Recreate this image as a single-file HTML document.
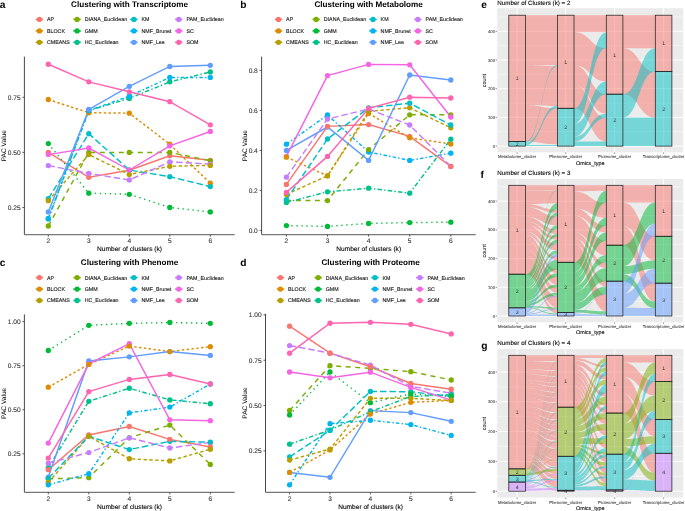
<!DOCTYPE html><html><head><meta charset="utf-8"><style>html,body{margin:0;padding:0;background:#fff;width:685px;height:511px;overflow:hidden}svg{display:block;will-change:transform}</style></head><body>
<svg width="685" height="511" viewBox="0 0 685 511" text-rendering="geometricPrecision" font-family='"Liberation Sans", sans-serif'>
<rect width="685" height="511" fill="#fff"/>
<text x="-0.30" y="8.10" font-size="10.2" text-anchor="start" font-weight="bold" fill="#000" >a</text>
<text x="129.55" y="6.80" font-size="8.15" text-anchor="middle" font-weight="bold" fill="#000" >Clustering with Transcriptome</text>
<line x1="35.70" y1="19.40" x2="43.10" y2="19.40" stroke="#F8766D" stroke-width="1.6"/>
<circle cx="39.40" cy="19.40" r="2.65" fill="#F8766D"/>
<text x="47.00" y="21.30" font-size="5.3" text-anchor="start" font-weight="normal" fill="#111" stroke="#111" stroke-width="0.1" >AP</text>
<line x1="35.70" y1="30.90" x2="43.10" y2="30.90" stroke="#DE8C00" stroke-width="1.6"/>
<circle cx="39.40" cy="30.90" r="2.65" fill="#DE8C00"/>
<text x="47.00" y="32.80" font-size="5.3" text-anchor="start" font-weight="normal" fill="#111" stroke="#111" stroke-width="0.1" >BLOCK</text>
<line x1="35.70" y1="42.30" x2="43.10" y2="42.30" stroke="#B79F00" stroke-width="1.6"/>
<circle cx="39.40" cy="42.30" r="2.65" fill="#B79F00"/>
<text x="47.00" y="44.20" font-size="5.3" text-anchor="start" font-weight="normal" fill="#111" stroke="#111" stroke-width="0.1" >CMEANS</text>
<line x1="73.40" y1="19.40" x2="80.80" y2="19.40" stroke="#7CAE00" stroke-width="1.6"/>
<circle cx="77.10" cy="19.40" r="2.65" fill="#7CAE00"/>
<text x="84.70" y="21.30" font-size="5.3" text-anchor="start" font-weight="normal" fill="#111" stroke="#111" stroke-width="0.1" >DIANA_Euclidean</text>
<line x1="73.40" y1="30.90" x2="80.80" y2="30.90" stroke="#00BA38" stroke-width="1.6"/>
<circle cx="77.10" cy="30.90" r="2.65" fill="#00BA38"/>
<text x="84.70" y="32.80" font-size="5.3" text-anchor="start" font-weight="normal" fill="#111" stroke="#111" stroke-width="0.1" >GMM</text>
<line x1="73.40" y1="42.30" x2="80.80" y2="42.30" stroke="#00C08B" stroke-width="1.6"/>
<circle cx="77.10" cy="42.30" r="2.65" fill="#00C08B"/>
<text x="84.70" y="44.20" font-size="5.3" text-anchor="start" font-weight="normal" fill="#111" stroke="#111" stroke-width="0.1" >HC_Euclidean</text>
<line x1="130.20" y1="19.40" x2="137.60" y2="19.40" stroke="#00BFC4" stroke-width="1.6"/>
<circle cx="133.90" cy="19.40" r="2.65" fill="#00BFC4"/>
<text x="141.50" y="21.30" font-size="5.3" text-anchor="start" font-weight="normal" fill="#111" stroke="#111" stroke-width="0.1" >KM</text>
<line x1="130.20" y1="30.90" x2="137.60" y2="30.90" stroke="#00B4F0" stroke-width="1.6"/>
<circle cx="133.90" cy="30.90" r="2.65" fill="#00B4F0"/>
<text x="141.50" y="32.80" font-size="5.3" text-anchor="start" font-weight="normal" fill="#111" stroke="#111" stroke-width="0.1" >NMF_Brunet</text>
<line x1="130.20" y1="42.30" x2="137.60" y2="42.30" stroke="#619CFF" stroke-width="1.6"/>
<circle cx="133.90" cy="42.30" r="2.65" fill="#619CFF"/>
<text x="141.50" y="44.20" font-size="5.3" text-anchor="start" font-weight="normal" fill="#111" stroke="#111" stroke-width="0.1" >NMF_Lee</text>
<line x1="175.10" y1="19.40" x2="182.50" y2="19.40" stroke="#C77CFF" stroke-width="1.6"/>
<circle cx="178.80" cy="19.40" r="2.65" fill="#C77CFF"/>
<text x="186.40" y="21.30" font-size="5.3" text-anchor="start" font-weight="normal" fill="#111" stroke="#111" stroke-width="0.1" >PAM_Euclidean</text>
<line x1="175.10" y1="30.90" x2="182.50" y2="30.90" stroke="#F564E3" stroke-width="1.6"/>
<circle cx="178.80" cy="30.90" r="2.65" fill="#F564E3"/>
<text x="186.40" y="32.80" font-size="5.3" text-anchor="start" font-weight="normal" fill="#111" stroke="#111" stroke-width="0.1" >SC</text>
<line x1="175.10" y1="42.30" x2="182.50" y2="42.30" stroke="#FF64B0" stroke-width="1.6"/>
<circle cx="178.80" cy="42.30" r="2.65" fill="#FF64B0"/>
<text x="186.40" y="44.20" font-size="5.3" text-anchor="start" font-weight="normal" fill="#111" stroke="#111" stroke-width="0.1" >SOM</text>
<line x1="24.40" y1="56.60" x2="24.40" y2="234.70" stroke="#333" stroke-width="0.9"/>
<line x1="24.40" y1="234.70" x2="234.70" y2="234.70" stroke="#777" stroke-width="1.2"/>
<line x1="22.40" y1="207.50" x2="24.40" y2="207.50" stroke="#333" stroke-width="0.8"/>
<text x="20.60" y="209.80" font-size="6.6" text-anchor="end" font-weight="normal" fill="#333" stroke="#333" stroke-width="0.1" >0.25</text>
<line x1="22.40" y1="152.40" x2="24.40" y2="152.40" stroke="#333" stroke-width="0.8"/>
<text x="20.60" y="154.70" font-size="6.6" text-anchor="end" font-weight="normal" fill="#333" stroke="#333" stroke-width="0.1" >0.50</text>
<line x1="22.40" y1="97.30" x2="24.40" y2="97.30" stroke="#333" stroke-width="0.8"/>
<text x="20.60" y="99.60" font-size="6.6" text-anchor="end" font-weight="normal" fill="#333" stroke="#333" stroke-width="0.1" >0.75</text>
<line x1="48.30" y1="234.70" x2="48.30" y2="236.70" stroke="#333" stroke-width="0.8"/>
<text x="48.30" y="243.00" font-size="6.6" text-anchor="middle" font-weight="normal" fill="#333" stroke="#333" stroke-width="0.1" >2</text>
<line x1="88.80" y1="234.70" x2="88.80" y2="236.70" stroke="#333" stroke-width="0.8"/>
<text x="88.80" y="243.00" font-size="6.6" text-anchor="middle" font-weight="normal" fill="#333" stroke="#333" stroke-width="0.1" >3</text>
<line x1="129.30" y1="234.70" x2="129.30" y2="236.70" stroke="#333" stroke-width="0.8"/>
<text x="129.30" y="243.00" font-size="6.6" text-anchor="middle" font-weight="normal" fill="#333" stroke="#333" stroke-width="0.1" >4</text>
<line x1="169.80" y1="234.70" x2="169.80" y2="236.70" stroke="#333" stroke-width="0.8"/>
<text x="169.80" y="243.00" font-size="6.6" text-anchor="middle" font-weight="normal" fill="#333" stroke="#333" stroke-width="0.1" >5</text>
<line x1="210.30" y1="234.70" x2="210.30" y2="236.70" stroke="#333" stroke-width="0.8"/>
<text x="210.30" y="243.00" font-size="6.6" text-anchor="middle" font-weight="normal" fill="#333" stroke="#333" stroke-width="0.1" >6</text>
<text x="129.55" y="251.00" font-size="6.6" text-anchor="middle" font-weight="normal" fill="#000" stroke="#000" stroke-width="0.1" >Number of clusters (k)</text>
<text x="0" y="0" font-size="6.6" text-anchor="middle" transform="translate(5.90,145.65) rotate(-90)">PAC Value</text>
<polyline points="48.30,152.40 88.80,177.31 129.30,170.25 169.80,155.71 210.30,160.33" fill="none" stroke="#F8766D" stroke-width="1.45"/>
<polyline points="48.30,99.50 88.80,112.73 129.30,113.17 169.80,144.25 210.30,183.26" fill="none" stroke="#DE8C00" stroke-width="1.45" stroke-dasharray="2.4 2.4"/>
<polyline points="48.30,200.67 88.80,154.60 129.30,174.44 169.80,166.29 210.30,165.40" fill="none" stroke="#B79F00" stroke-width="1.45" stroke-dasharray="3.4 2.4"/>
<polyline points="48.30,226.01 88.80,152.40 129.30,152.40 169.80,152.40 210.30,160.78" fill="none" stroke="#7CAE00" stroke-width="1.45" stroke-dasharray="5 4.5"/>
<polyline points="48.30,143.58 88.80,193.17 129.30,194.28 169.80,207.50 210.30,211.91" fill="none" stroke="#00BA38" stroke-width="1.45" stroke-dasharray="1.3 3.7"/>
<polyline points="48.30,218.96 88.80,110.52 129.30,98.40 169.80,81.87 210.30,71.95" fill="none" stroke="#00C08B" stroke-width="1.45" stroke-dasharray="4.5 2.2 1.4 2.2"/>
<polyline points="48.30,198.68 88.80,133.67 129.30,170.03 169.80,176.64 210.30,186.56" fill="none" stroke="#00BFC4" stroke-width="1.45" stroke-dasharray="6.5 3"/>
<polyline points="48.30,218.52 88.80,110.52 129.30,96.20 169.80,77.46 210.30,77.46" fill="none" stroke="#00B4F0" stroke-width="1.45" stroke-dasharray="3.5 2.2 1.4 2.2"/>
<polyline points="48.30,211.91 88.80,109.42 129.30,86.28 169.80,66.44 210.30,65.34" fill="none" stroke="#619CFF" stroke-width="1.45"/>
<polyline points="48.30,165.62 88.80,173.34 129.30,179.95 169.80,161.88 210.30,164.08" fill="none" stroke="#C77CFF" stroke-width="1.45" stroke-dasharray="6.5 3"/>
<polyline points="48.30,154.60 88.80,147.99 129.30,170.03 169.80,145.79 210.30,131.46" fill="none" stroke="#F564E3" stroke-width="1.45"/>
<polyline points="48.30,64.24 88.80,81.87 129.30,91.79 169.80,101.71 210.30,124.85" fill="none" stroke="#FF64B0" stroke-width="1.45"/>
<circle cx="48.30" cy="152.40" r="2.65" fill="#F8766D"/>
<circle cx="88.80" cy="177.31" r="2.65" fill="#F8766D"/>
<circle cx="129.30" cy="170.25" r="2.65" fill="#F8766D"/>
<circle cx="169.80" cy="155.71" r="2.65" fill="#F8766D"/>
<circle cx="210.30" cy="160.33" r="2.65" fill="#F8766D"/>
<circle cx="48.30" cy="99.50" r="2.65" fill="#DE8C00"/>
<circle cx="88.80" cy="112.73" r="2.65" fill="#DE8C00"/>
<circle cx="129.30" cy="113.17" r="2.65" fill="#DE8C00"/>
<circle cx="169.80" cy="144.25" r="2.65" fill="#DE8C00"/>
<circle cx="210.30" cy="183.26" r="2.65" fill="#DE8C00"/>
<circle cx="48.30" cy="226.01" r="2.65" fill="#7CAE00"/>
<circle cx="88.80" cy="152.40" r="2.65" fill="#7CAE00"/>
<circle cx="129.30" cy="152.40" r="2.65" fill="#7CAE00"/>
<circle cx="169.80" cy="152.40" r="2.65" fill="#7CAE00"/>
<circle cx="210.30" cy="160.78" r="2.65" fill="#7CAE00"/>
<circle cx="48.30" cy="143.58" r="2.65" fill="#00BA38"/>
<circle cx="88.80" cy="193.17" r="2.65" fill="#00BA38"/>
<circle cx="129.30" cy="194.28" r="2.65" fill="#00BA38"/>
<circle cx="169.80" cy="207.50" r="2.65" fill="#00BA38"/>
<circle cx="210.30" cy="211.91" r="2.65" fill="#00BA38"/>
<circle cx="48.30" cy="218.96" r="2.65" fill="#00C08B"/>
<circle cx="88.80" cy="110.52" r="2.65" fill="#00C08B"/>
<circle cx="129.30" cy="98.40" r="2.65" fill="#00C08B"/>
<circle cx="169.80" cy="81.87" r="2.65" fill="#00C08B"/>
<circle cx="210.30" cy="71.95" r="2.65" fill="#00C08B"/>
<circle cx="48.30" cy="198.68" r="2.65" fill="#00BFC4"/>
<circle cx="88.80" cy="133.67" r="2.65" fill="#00BFC4"/>
<circle cx="129.30" cy="170.03" r="2.65" fill="#00BFC4"/>
<circle cx="169.80" cy="176.64" r="2.65" fill="#00BFC4"/>
<circle cx="210.30" cy="186.56" r="2.65" fill="#00BFC4"/>
<circle cx="48.30" cy="218.52" r="2.65" fill="#00B4F0"/>
<circle cx="88.80" cy="110.52" r="2.65" fill="#00B4F0"/>
<circle cx="129.30" cy="96.20" r="2.65" fill="#00B4F0"/>
<circle cx="169.80" cy="77.46" r="2.65" fill="#00B4F0"/>
<circle cx="210.30" cy="77.46" r="2.65" fill="#00B4F0"/>
<circle cx="48.30" cy="211.91" r="2.65" fill="#619CFF"/>
<circle cx="88.80" cy="109.42" r="2.65" fill="#619CFF"/>
<circle cx="129.30" cy="86.28" r="2.65" fill="#619CFF"/>
<circle cx="169.80" cy="66.44" r="2.65" fill="#619CFF"/>
<circle cx="210.30" cy="65.34" r="2.65" fill="#619CFF"/>
<circle cx="48.30" cy="165.62" r="2.65" fill="#C77CFF"/>
<circle cx="88.80" cy="173.34" r="2.65" fill="#C77CFF"/>
<circle cx="129.30" cy="179.95" r="2.65" fill="#C77CFF"/>
<circle cx="169.80" cy="161.88" r="2.65" fill="#C77CFF"/>
<circle cx="210.30" cy="164.08" r="2.65" fill="#C77CFF"/>
<circle cx="48.30" cy="200.67" r="2.65" fill="#B79F00"/>
<circle cx="88.80" cy="154.60" r="2.65" fill="#B79F00"/>
<circle cx="129.30" cy="174.44" r="2.65" fill="#B79F00"/>
<circle cx="169.80" cy="166.29" r="2.65" fill="#B79F00"/>
<circle cx="210.30" cy="165.40" r="2.65" fill="#B79F00"/>
<circle cx="48.30" cy="154.60" r="2.65" fill="#F564E3"/>
<circle cx="88.80" cy="147.99" r="2.65" fill="#F564E3"/>
<circle cx="129.30" cy="170.03" r="2.65" fill="#F564E3"/>
<circle cx="169.80" cy="145.79" r="2.65" fill="#F564E3"/>
<circle cx="210.30" cy="131.46" r="2.65" fill="#F564E3"/>
<circle cx="48.30" cy="64.24" r="2.65" fill="#FF64B0"/>
<circle cx="88.80" cy="81.87" r="2.65" fill="#FF64B0"/>
<circle cx="129.30" cy="91.79" r="2.65" fill="#FF64B0"/>
<circle cx="169.80" cy="101.71" r="2.65" fill="#FF64B0"/>
<circle cx="210.30" cy="124.85" r="2.65" fill="#FF64B0"/>
<text x="240.20" y="8.10" font-size="10.2" text-anchor="start" font-weight="bold" fill="#000" >b</text>
<text x="368.65" y="6.80" font-size="8.15" text-anchor="middle" font-weight="bold" fill="#000" >Clustering with Metabolome</text>
<line x1="274.80" y1="19.40" x2="282.20" y2="19.40" stroke="#F8766D" stroke-width="1.6"/>
<circle cx="278.50" cy="19.40" r="2.65" fill="#F8766D"/>
<text x="286.10" y="21.30" font-size="5.3" text-anchor="start" font-weight="normal" fill="#111" stroke="#111" stroke-width="0.1" >AP</text>
<line x1="274.80" y1="30.90" x2="282.20" y2="30.90" stroke="#DE8C00" stroke-width="1.6"/>
<circle cx="278.50" cy="30.90" r="2.65" fill="#DE8C00"/>
<text x="286.10" y="32.80" font-size="5.3" text-anchor="start" font-weight="normal" fill="#111" stroke="#111" stroke-width="0.1" >BLOCK</text>
<line x1="274.80" y1="42.30" x2="282.20" y2="42.30" stroke="#B79F00" stroke-width="1.6"/>
<circle cx="278.50" cy="42.30" r="2.65" fill="#B79F00"/>
<text x="286.10" y="44.20" font-size="5.3" text-anchor="start" font-weight="normal" fill="#111" stroke="#111" stroke-width="0.1" >CMEANS</text>
<line x1="312.50" y1="19.40" x2="319.90" y2="19.40" stroke="#7CAE00" stroke-width="1.6"/>
<circle cx="316.20" cy="19.40" r="2.65" fill="#7CAE00"/>
<text x="323.80" y="21.30" font-size="5.3" text-anchor="start" font-weight="normal" fill="#111" stroke="#111" stroke-width="0.1" >DIANA_Euclidean</text>
<line x1="312.50" y1="30.90" x2="319.90" y2="30.90" stroke="#00BA38" stroke-width="1.6"/>
<circle cx="316.20" cy="30.90" r="2.65" fill="#00BA38"/>
<text x="323.80" y="32.80" font-size="5.3" text-anchor="start" font-weight="normal" fill="#111" stroke="#111" stroke-width="0.1" >GMM</text>
<line x1="312.50" y1="42.30" x2="319.90" y2="42.30" stroke="#00C08B" stroke-width="1.6"/>
<circle cx="316.20" cy="42.30" r="2.65" fill="#00C08B"/>
<text x="323.80" y="44.20" font-size="5.3" text-anchor="start" font-weight="normal" fill="#111" stroke="#111" stroke-width="0.1" >HC_Euclidean</text>
<line x1="369.30" y1="19.40" x2="376.70" y2="19.40" stroke="#00BFC4" stroke-width="1.6"/>
<circle cx="373.00" cy="19.40" r="2.65" fill="#00BFC4"/>
<text x="380.60" y="21.30" font-size="5.3" text-anchor="start" font-weight="normal" fill="#111" stroke="#111" stroke-width="0.1" >KM</text>
<line x1="369.30" y1="30.90" x2="376.70" y2="30.90" stroke="#00B4F0" stroke-width="1.6"/>
<circle cx="373.00" cy="30.90" r="2.65" fill="#00B4F0"/>
<text x="380.60" y="32.80" font-size="5.3" text-anchor="start" font-weight="normal" fill="#111" stroke="#111" stroke-width="0.1" >NMF_Brunet</text>
<line x1="369.30" y1="42.30" x2="376.70" y2="42.30" stroke="#619CFF" stroke-width="1.6"/>
<circle cx="373.00" cy="42.30" r="2.65" fill="#619CFF"/>
<text x="380.60" y="44.20" font-size="5.3" text-anchor="start" font-weight="normal" fill="#111" stroke="#111" stroke-width="0.1" >NMF_Lee</text>
<line x1="414.20" y1="19.40" x2="421.60" y2="19.40" stroke="#C77CFF" stroke-width="1.6"/>
<circle cx="417.90" cy="19.40" r="2.65" fill="#C77CFF"/>
<text x="425.50" y="21.30" font-size="5.3" text-anchor="start" font-weight="normal" fill="#111" stroke="#111" stroke-width="0.1" >PAM_Euclidean</text>
<line x1="414.20" y1="30.90" x2="421.60" y2="30.90" stroke="#F564E3" stroke-width="1.6"/>
<circle cx="417.90" cy="30.90" r="2.65" fill="#F564E3"/>
<text x="425.50" y="32.80" font-size="5.3" text-anchor="start" font-weight="normal" fill="#111" stroke="#111" stroke-width="0.1" >SC</text>
<line x1="414.20" y1="42.30" x2="421.60" y2="42.30" stroke="#FF64B0" stroke-width="1.6"/>
<circle cx="417.90" cy="42.30" r="2.65" fill="#FF64B0"/>
<text x="425.50" y="44.20" font-size="5.3" text-anchor="start" font-weight="normal" fill="#111" stroke="#111" stroke-width="0.1" >SOM</text>
<line x1="261.60" y1="56.60" x2="261.60" y2="234.60" stroke="#333" stroke-width="0.9"/>
<line x1="261.60" y1="234.60" x2="475.70" y2="234.60" stroke="#777" stroke-width="1.2"/>
<line x1="259.60" y1="230.40" x2="261.60" y2="230.40" stroke="#333" stroke-width="0.8"/>
<text x="257.80" y="232.70" font-size="6.6" text-anchor="end" font-weight="normal" fill="#333" stroke="#333" stroke-width="0.1" >0.0</text>
<line x1="259.60" y1="190.40" x2="261.60" y2="190.40" stroke="#333" stroke-width="0.8"/>
<text x="257.80" y="192.70" font-size="6.6" text-anchor="end" font-weight="normal" fill="#333" stroke="#333" stroke-width="0.1" >0.2</text>
<line x1="259.60" y1="150.40" x2="261.60" y2="150.40" stroke="#333" stroke-width="0.8"/>
<text x="257.80" y="152.70" font-size="6.6" text-anchor="end" font-weight="normal" fill="#333" stroke="#333" stroke-width="0.1" >0.4</text>
<line x1="259.60" y1="110.40" x2="261.60" y2="110.40" stroke="#333" stroke-width="0.8"/>
<text x="257.80" y="112.70" font-size="6.6" text-anchor="end" font-weight="normal" fill="#333" stroke="#333" stroke-width="0.1" >0.6</text>
<line x1="259.60" y1="70.40" x2="261.60" y2="70.40" stroke="#333" stroke-width="0.8"/>
<text x="257.80" y="72.70" font-size="6.6" text-anchor="end" font-weight="normal" fill="#333" stroke="#333" stroke-width="0.1" >0.8</text>
<line x1="286.40" y1="234.60" x2="286.40" y2="236.60" stroke="#333" stroke-width="0.8"/>
<text x="286.40" y="242.90" font-size="6.6" text-anchor="middle" font-weight="normal" fill="#333" stroke="#333" stroke-width="0.1" >2</text>
<line x1="327.50" y1="234.60" x2="327.50" y2="236.60" stroke="#333" stroke-width="0.8"/>
<text x="327.50" y="242.90" font-size="6.6" text-anchor="middle" font-weight="normal" fill="#333" stroke="#333" stroke-width="0.1" >3</text>
<line x1="368.60" y1="234.60" x2="368.60" y2="236.60" stroke="#333" stroke-width="0.8"/>
<text x="368.60" y="242.90" font-size="6.6" text-anchor="middle" font-weight="normal" fill="#333" stroke="#333" stroke-width="0.1" >4</text>
<line x1="409.70" y1="234.60" x2="409.70" y2="236.60" stroke="#333" stroke-width="0.8"/>
<text x="409.70" y="242.90" font-size="6.6" text-anchor="middle" font-weight="normal" fill="#333" stroke="#333" stroke-width="0.1" >5</text>
<line x1="450.80" y1="234.60" x2="450.80" y2="236.60" stroke="#333" stroke-width="0.8"/>
<text x="450.80" y="242.90" font-size="6.6" text-anchor="middle" font-weight="normal" fill="#333" stroke="#333" stroke-width="0.1" >6</text>
<text x="368.65" y="250.90" font-size="6.6" text-anchor="middle" font-weight="normal" fill="#000" stroke="#000" stroke-width="0.1" >Number of clusters (k)</text>
<text x="0" y="0" font-size="6.6" text-anchor="middle" transform="translate(246.60,145.60) rotate(-90)">PAC Value</text>
<polyline points="286.40,184.40 327.50,126.40 368.60,124.60 409.70,136.40 450.80,166.40" fill="none" stroke="#F8766D" stroke-width="1.45"/>
<polyline points="286.40,157.20 327.50,175.80 368.60,113.40 409.70,137.80 450.80,144.00" fill="none" stroke="#DE8C00" stroke-width="1.45" stroke-dasharray="2.4 2.4"/>
<polyline points="286.40,194.40 327.50,175.80 368.60,111.40 409.70,107.80 450.80,127.80" fill="none" stroke="#B79F00" stroke-width="1.45" stroke-dasharray="3.4 2.4"/>
<polyline points="286.40,200.40 327.50,200.60 368.60,149.60 409.70,114.80 450.80,114.80" fill="none" stroke="#7CAE00" stroke-width="1.45" stroke-dasharray="5 4.5"/>
<polyline points="286.40,225.60 327.50,226.40 368.60,223.40 409.70,222.60 450.80,222.20" fill="none" stroke="#00BA38" stroke-width="1.45" stroke-dasharray="1.3 3.7"/>
<polyline points="286.40,202.40 327.50,191.80 368.60,188.20 409.70,193.20 450.80,139.20" fill="none" stroke="#00C08B" stroke-width="1.45" stroke-dasharray="4.5 2.2 1.4 2.2"/>
<polyline points="286.40,199.60 327.50,139.00 368.60,107.80 409.70,103.20 450.80,125.00" fill="none" stroke="#00BFC4" stroke-width="1.45" stroke-dasharray="6.5 3"/>
<polyline points="286.40,144.20 327.50,115.00 368.60,152.00 409.70,160.40 450.80,153.20" fill="none" stroke="#00B4F0" stroke-width="1.45" stroke-dasharray="3.5 2.2 1.4 2.2"/>
<polyline points="286.40,150.40 327.50,127.00 368.60,160.40 409.70,75.00 450.80,80.00" fill="none" stroke="#619CFF" stroke-width="1.45"/>
<polyline points="286.40,177.20 327.50,119.00 368.60,109.00 409.70,125.00 450.80,166.40" fill="none" stroke="#C77CFF" stroke-width="1.45" stroke-dasharray="6.5 3"/>
<polyline points="286.40,156.40 327.50,75.60 368.60,64.40 409.70,64.80 450.80,117.00" fill="none" stroke="#F564E3" stroke-width="1.45"/>
<polyline points="286.40,192.40 327.50,156.40 368.60,108.40 409.70,97.20 450.80,98.00" fill="none" stroke="#FF64B0" stroke-width="1.45"/>
<circle cx="286.40" cy="144.20" r="2.65" fill="#00B4F0"/>
<circle cx="327.50" cy="115.00" r="2.65" fill="#00B4F0"/>
<circle cx="368.60" cy="152.00" r="2.65" fill="#00B4F0"/>
<circle cx="409.70" cy="160.40" r="2.65" fill="#00B4F0"/>
<circle cx="450.80" cy="153.20" r="2.65" fill="#00B4F0"/>
<circle cx="286.40" cy="150.40" r="2.65" fill="#619CFF"/>
<circle cx="327.50" cy="127.00" r="2.65" fill="#619CFF"/>
<circle cx="368.60" cy="160.40" r="2.65" fill="#619CFF"/>
<circle cx="409.70" cy="75.00" r="2.65" fill="#619CFF"/>
<circle cx="450.80" cy="80.00" r="2.65" fill="#619CFF"/>
<circle cx="286.40" cy="177.20" r="2.65" fill="#C77CFF"/>
<circle cx="327.50" cy="119.00" r="2.65" fill="#C77CFF"/>
<circle cx="368.60" cy="109.00" r="2.65" fill="#C77CFF"/>
<circle cx="409.70" cy="125.00" r="2.65" fill="#C77CFF"/>
<circle cx="450.80" cy="166.40" r="2.65" fill="#C77CFF"/>
<circle cx="286.40" cy="200.40" r="2.65" fill="#7CAE00"/>
<circle cx="327.50" cy="200.60" r="2.65" fill="#7CAE00"/>
<circle cx="368.60" cy="149.60" r="2.65" fill="#7CAE00"/>
<circle cx="409.70" cy="114.80" r="2.65" fill="#7CAE00"/>
<circle cx="450.80" cy="114.80" r="2.65" fill="#7CAE00"/>
<circle cx="286.40" cy="156.40" r="2.65" fill="#F564E3"/>
<circle cx="327.50" cy="75.60" r="2.65" fill="#F564E3"/>
<circle cx="368.60" cy="64.40" r="2.65" fill="#F564E3"/>
<circle cx="409.70" cy="64.80" r="2.65" fill="#F564E3"/>
<circle cx="450.80" cy="117.00" r="2.65" fill="#F564E3"/>
<circle cx="286.40" cy="184.40" r="2.65" fill="#F8766D"/>
<circle cx="327.50" cy="126.40" r="2.65" fill="#F8766D"/>
<circle cx="368.60" cy="124.60" r="2.65" fill="#F8766D"/>
<circle cx="409.70" cy="136.40" r="2.65" fill="#F8766D"/>
<circle cx="450.80" cy="166.40" r="2.65" fill="#F8766D"/>
<circle cx="286.40" cy="157.20" r="2.65" fill="#DE8C00"/>
<circle cx="327.50" cy="175.80" r="2.65" fill="#DE8C00"/>
<circle cx="368.60" cy="113.40" r="2.65" fill="#DE8C00"/>
<circle cx="409.70" cy="137.80" r="2.65" fill="#DE8C00"/>
<circle cx="450.80" cy="144.00" r="2.65" fill="#DE8C00"/>
<circle cx="286.40" cy="194.40" r="2.65" fill="#B79F00"/>
<circle cx="327.50" cy="175.80" r="2.65" fill="#B79F00"/>
<circle cx="368.60" cy="111.40" r="2.65" fill="#B79F00"/>
<circle cx="409.70" cy="107.80" r="2.65" fill="#B79F00"/>
<circle cx="450.80" cy="127.80" r="2.65" fill="#B79F00"/>
<circle cx="286.40" cy="225.60" r="2.65" fill="#00BA38"/>
<circle cx="327.50" cy="226.40" r="2.65" fill="#00BA38"/>
<circle cx="368.60" cy="223.40" r="2.65" fill="#00BA38"/>
<circle cx="409.70" cy="222.60" r="2.65" fill="#00BA38"/>
<circle cx="450.80" cy="222.20" r="2.65" fill="#00BA38"/>
<circle cx="286.40" cy="202.40" r="2.65" fill="#00C08B"/>
<circle cx="327.50" cy="191.80" r="2.65" fill="#00C08B"/>
<circle cx="368.60" cy="188.20" r="2.65" fill="#00C08B"/>
<circle cx="409.70" cy="193.20" r="2.65" fill="#00C08B"/>
<circle cx="450.80" cy="139.20" r="2.65" fill="#00C08B"/>
<circle cx="286.40" cy="199.60" r="2.65" fill="#00BFC4"/>
<circle cx="327.50" cy="139.00" r="2.65" fill="#00BFC4"/>
<circle cx="368.60" cy="107.80" r="2.65" fill="#00BFC4"/>
<circle cx="409.70" cy="103.20" r="2.65" fill="#00BFC4"/>
<circle cx="450.80" cy="125.00" r="2.65" fill="#00BFC4"/>
<circle cx="286.40" cy="192.40" r="2.65" fill="#FF64B0"/>
<circle cx="327.50" cy="156.40" r="2.65" fill="#FF64B0"/>
<circle cx="368.60" cy="108.40" r="2.65" fill="#FF64B0"/>
<circle cx="409.70" cy="97.20" r="2.65" fill="#FF64B0"/>
<circle cx="450.80" cy="98.00" r="2.65" fill="#FF64B0"/>
<text x="-0.30" y="266.30" font-size="10.2" text-anchor="start" font-weight="bold" fill="#000" >c</text>
<text x="129.55" y="265.00" font-size="8.15" text-anchor="middle" font-weight="bold" fill="#000" >Clustering with Phenome</text>
<line x1="35.70" y1="277.60" x2="43.10" y2="277.60" stroke="#F8766D" stroke-width="1.6"/>
<circle cx="39.40" cy="277.60" r="2.65" fill="#F8766D"/>
<text x="47.00" y="279.50" font-size="5.3" text-anchor="start" font-weight="normal" fill="#111" stroke="#111" stroke-width="0.1" >AP</text>
<line x1="35.70" y1="289.10" x2="43.10" y2="289.10" stroke="#DE8C00" stroke-width="1.6"/>
<circle cx="39.40" cy="289.10" r="2.65" fill="#DE8C00"/>
<text x="47.00" y="291.00" font-size="5.3" text-anchor="start" font-weight="normal" fill="#111" stroke="#111" stroke-width="0.1" >BLOCK</text>
<line x1="35.70" y1="300.50" x2="43.10" y2="300.50" stroke="#B79F00" stroke-width="1.6"/>
<circle cx="39.40" cy="300.50" r="2.65" fill="#B79F00"/>
<text x="47.00" y="302.40" font-size="5.3" text-anchor="start" font-weight="normal" fill="#111" stroke="#111" stroke-width="0.1" >CMEANS</text>
<line x1="73.40" y1="277.60" x2="80.80" y2="277.60" stroke="#7CAE00" stroke-width="1.6"/>
<circle cx="77.10" cy="277.60" r="2.65" fill="#7CAE00"/>
<text x="84.70" y="279.50" font-size="5.3" text-anchor="start" font-weight="normal" fill="#111" stroke="#111" stroke-width="0.1" >DIANA_Euclidean</text>
<line x1="73.40" y1="289.10" x2="80.80" y2="289.10" stroke="#00BA38" stroke-width="1.6"/>
<circle cx="77.10" cy="289.10" r="2.65" fill="#00BA38"/>
<text x="84.70" y="291.00" font-size="5.3" text-anchor="start" font-weight="normal" fill="#111" stroke="#111" stroke-width="0.1" >GMM</text>
<line x1="73.40" y1="300.50" x2="80.80" y2="300.50" stroke="#00C08B" stroke-width="1.6"/>
<circle cx="77.10" cy="300.50" r="2.65" fill="#00C08B"/>
<text x="84.70" y="302.40" font-size="5.3" text-anchor="start" font-weight="normal" fill="#111" stroke="#111" stroke-width="0.1" >HC_Euclidean</text>
<line x1="130.20" y1="277.60" x2="137.60" y2="277.60" stroke="#00BFC4" stroke-width="1.6"/>
<circle cx="133.90" cy="277.60" r="2.65" fill="#00BFC4"/>
<text x="141.50" y="279.50" font-size="5.3" text-anchor="start" font-weight="normal" fill="#111" stroke="#111" stroke-width="0.1" >KM</text>
<line x1="130.20" y1="289.10" x2="137.60" y2="289.10" stroke="#00B4F0" stroke-width="1.6"/>
<circle cx="133.90" cy="289.10" r="2.65" fill="#00B4F0"/>
<text x="141.50" y="291.00" font-size="5.3" text-anchor="start" font-weight="normal" fill="#111" stroke="#111" stroke-width="0.1" >NMF_Brunet</text>
<line x1="130.20" y1="300.50" x2="137.60" y2="300.50" stroke="#619CFF" stroke-width="1.6"/>
<circle cx="133.90" cy="300.50" r="2.65" fill="#619CFF"/>
<text x="141.50" y="302.40" font-size="5.3" text-anchor="start" font-weight="normal" fill="#111" stroke="#111" stroke-width="0.1" >NMF_Lee</text>
<line x1="175.10" y1="277.60" x2="182.50" y2="277.60" stroke="#C77CFF" stroke-width="1.6"/>
<circle cx="178.80" cy="277.60" r="2.65" fill="#C77CFF"/>
<text x="186.40" y="279.50" font-size="5.3" text-anchor="start" font-weight="normal" fill="#111" stroke="#111" stroke-width="0.1" >PAM_Euclidean</text>
<line x1="175.10" y1="289.10" x2="182.50" y2="289.10" stroke="#F564E3" stroke-width="1.6"/>
<circle cx="178.80" cy="289.10" r="2.65" fill="#F564E3"/>
<text x="186.40" y="291.00" font-size="5.3" text-anchor="start" font-weight="normal" fill="#111" stroke="#111" stroke-width="0.1" >SC</text>
<line x1="175.10" y1="300.50" x2="182.50" y2="300.50" stroke="#FF64B0" stroke-width="1.6"/>
<circle cx="178.80" cy="300.50" r="2.65" fill="#FF64B0"/>
<text x="186.40" y="302.40" font-size="5.3" text-anchor="start" font-weight="normal" fill="#111" stroke="#111" stroke-width="0.1" >SOM</text>
<line x1="24.40" y1="314.40" x2="24.40" y2="492.30" stroke="#333" stroke-width="0.9"/>
<line x1="24.40" y1="492.30" x2="234.70" y2="492.30" stroke="#777" stroke-width="1.2"/>
<line x1="22.40" y1="453.83" x2="24.40" y2="453.83" stroke="#333" stroke-width="0.8"/>
<text x="20.60" y="456.13" font-size="6.6" text-anchor="end" font-weight="normal" fill="#333" stroke="#333" stroke-width="0.1" >0.25</text>
<line x1="22.40" y1="409.75" x2="24.40" y2="409.75" stroke="#333" stroke-width="0.8"/>
<text x="20.60" y="412.05" font-size="6.6" text-anchor="end" font-weight="normal" fill="#333" stroke="#333" stroke-width="0.1" >0.50</text>
<line x1="22.40" y1="365.68" x2="24.40" y2="365.68" stroke="#333" stroke-width="0.8"/>
<text x="20.60" y="367.98" font-size="6.6" text-anchor="end" font-weight="normal" fill="#333" stroke="#333" stroke-width="0.1" >0.75</text>
<line x1="22.40" y1="321.60" x2="24.40" y2="321.60" stroke="#333" stroke-width="0.8"/>
<text x="20.60" y="323.90" font-size="6.6" text-anchor="end" font-weight="normal" fill="#333" stroke="#333" stroke-width="0.1" >1.00</text>
<line x1="48.30" y1="492.30" x2="48.30" y2="494.30" stroke="#333" stroke-width="0.8"/>
<text x="48.30" y="500.60" font-size="6.6" text-anchor="middle" font-weight="normal" fill="#333" stroke="#333" stroke-width="0.1" >2</text>
<line x1="88.80" y1="492.30" x2="88.80" y2="494.30" stroke="#333" stroke-width="0.8"/>
<text x="88.80" y="500.60" font-size="6.6" text-anchor="middle" font-weight="normal" fill="#333" stroke="#333" stroke-width="0.1" >3</text>
<line x1="129.30" y1="492.30" x2="129.30" y2="494.30" stroke="#333" stroke-width="0.8"/>
<text x="129.30" y="500.60" font-size="6.6" text-anchor="middle" font-weight="normal" fill="#333" stroke="#333" stroke-width="0.1" >4</text>
<line x1="169.80" y1="492.30" x2="169.80" y2="494.30" stroke="#333" stroke-width="0.8"/>
<text x="169.80" y="500.60" font-size="6.6" text-anchor="middle" font-weight="normal" fill="#333" stroke="#333" stroke-width="0.1" >5</text>
<line x1="210.30" y1="492.30" x2="210.30" y2="494.30" stroke="#333" stroke-width="0.8"/>
<text x="210.30" y="500.60" font-size="6.6" text-anchor="middle" font-weight="normal" fill="#333" stroke="#333" stroke-width="0.1" >6</text>
<text x="129.55" y="508.60" font-size="6.6" text-anchor="middle" font-weight="normal" fill="#000" stroke="#000" stroke-width="0.1" >Number of clusters (k)</text>
<text x="0" y="0" font-size="6.6" text-anchor="middle" transform="translate(5.90,403.35) rotate(-90)">PAC Value</text>
<polyline points="48.30,469.69 88.80,434.96 129.30,426.50 169.80,439.37 210.30,446.95" fill="none" stroke="#F8766D" stroke-width="1.45"/>
<polyline points="48.30,387.18 88.80,364.44 129.30,346.11 169.80,351.57 210.30,346.63" fill="none" stroke="#DE8C00" stroke-width="1.45" stroke-dasharray="2.4 2.4"/>
<polyline points="48.30,482.39 88.80,436.37 129.30,458.76 169.80,460.88 210.30,449.24" fill="none" stroke="#B79F00" stroke-width="1.45" stroke-dasharray="3.4 2.4"/>
<polyline points="48.30,478.86 88.80,477.63 129.30,437.78 169.80,425.09 210.30,464.40" fill="none" stroke="#7CAE00" stroke-width="1.45" stroke-dasharray="5 4.5"/>
<polyline points="48.30,350.51 88.80,325.30 129.30,323.36 169.80,322.48 210.30,323.36" fill="none" stroke="#00BA38" stroke-width="1.45" stroke-dasharray="1.3 3.7"/>
<polyline points="48.30,467.75 88.80,401.29 129.30,388.24 169.80,399.88 210.30,403.76" fill="none" stroke="#00C08B" stroke-width="1.45" stroke-dasharray="4.5 2.2 1.4 2.2"/>
<polyline points="48.30,478.33 88.80,436.20 129.30,449.59 169.80,441.31 210.30,442.19" fill="none" stroke="#00BFC4" stroke-width="1.45" stroke-dasharray="6.5 3"/>
<polyline points="48.30,484.85 88.80,473.75 129.30,412.92 169.80,407.11 210.30,384.01" fill="none" stroke="#00B4F0" stroke-width="1.45" stroke-dasharray="3.5 2.2 1.4 2.2"/>
<polyline points="48.30,477.10 88.80,360.91 129.30,356.86 169.80,351.57 210.30,355.45" fill="none" stroke="#619CFF" stroke-width="1.45"/>
<polyline points="48.30,463.17 88.80,452.59 129.30,437.78 169.80,448.01 210.30,442.54" fill="none" stroke="#C77CFF" stroke-width="1.45" stroke-dasharray="6.5 3"/>
<polyline points="48.30,443.07 88.80,363.91 129.30,343.64 169.80,419.80 210.30,420.68" fill="none" stroke="#F564E3" stroke-width="1.45"/>
<polyline points="48.30,458.06 88.80,391.59 129.30,379.43 169.80,374.49 210.30,384.01" fill="none" stroke="#FF64B0" stroke-width="1.45"/>
<circle cx="48.30" cy="467.75" r="2.65" fill="#00C08B"/>
<circle cx="88.80" cy="401.29" r="2.65" fill="#00C08B"/>
<circle cx="129.30" cy="388.24" r="2.65" fill="#00C08B"/>
<circle cx="169.80" cy="399.88" r="2.65" fill="#00C08B"/>
<circle cx="210.30" cy="403.76" r="2.65" fill="#00C08B"/>
<circle cx="48.30" cy="477.10" r="2.65" fill="#619CFF"/>
<circle cx="88.80" cy="360.91" r="2.65" fill="#619CFF"/>
<circle cx="129.30" cy="356.86" r="2.65" fill="#619CFF"/>
<circle cx="169.80" cy="351.57" r="2.65" fill="#619CFF"/>
<circle cx="210.30" cy="355.45" r="2.65" fill="#619CFF"/>
<circle cx="48.30" cy="443.07" r="2.65" fill="#F564E3"/>
<circle cx="88.80" cy="363.91" r="2.65" fill="#F564E3"/>
<circle cx="129.30" cy="343.64" r="2.65" fill="#F564E3"/>
<circle cx="169.80" cy="419.80" r="2.65" fill="#F564E3"/>
<circle cx="210.30" cy="420.68" r="2.65" fill="#F564E3"/>
<circle cx="48.30" cy="478.86" r="2.65" fill="#7CAE00"/>
<circle cx="88.80" cy="477.63" r="2.65" fill="#7CAE00"/>
<circle cx="129.30" cy="437.78" r="2.65" fill="#7CAE00"/>
<circle cx="169.80" cy="425.09" r="2.65" fill="#7CAE00"/>
<circle cx="210.30" cy="464.40" r="2.65" fill="#7CAE00"/>
<circle cx="48.30" cy="463.17" r="2.65" fill="#C77CFF"/>
<circle cx="88.80" cy="452.59" r="2.65" fill="#C77CFF"/>
<circle cx="129.30" cy="437.78" r="2.65" fill="#C77CFF"/>
<circle cx="169.80" cy="448.01" r="2.65" fill="#C77CFF"/>
<circle cx="210.30" cy="442.54" r="2.65" fill="#C77CFF"/>
<circle cx="48.30" cy="478.33" r="2.65" fill="#00BFC4"/>
<circle cx="88.80" cy="436.20" r="2.65" fill="#00BFC4"/>
<circle cx="129.30" cy="449.59" r="2.65" fill="#00BFC4"/>
<circle cx="169.80" cy="441.31" r="2.65" fill="#00BFC4"/>
<circle cx="210.30" cy="442.19" r="2.65" fill="#00BFC4"/>
<circle cx="48.30" cy="469.69" r="2.65" fill="#F8766D"/>
<circle cx="88.80" cy="434.96" r="2.65" fill="#F8766D"/>
<circle cx="129.30" cy="426.50" r="2.65" fill="#F8766D"/>
<circle cx="169.80" cy="439.37" r="2.65" fill="#F8766D"/>
<circle cx="210.30" cy="446.95" r="2.65" fill="#F8766D"/>
<circle cx="48.30" cy="387.18" r="2.65" fill="#DE8C00"/>
<circle cx="88.80" cy="364.44" r="2.65" fill="#DE8C00"/>
<circle cx="129.30" cy="346.11" r="2.65" fill="#DE8C00"/>
<circle cx="169.80" cy="351.57" r="2.65" fill="#DE8C00"/>
<circle cx="210.30" cy="346.63" r="2.65" fill="#DE8C00"/>
<circle cx="48.30" cy="482.39" r="2.65" fill="#B79F00"/>
<circle cx="88.80" cy="436.37" r="2.65" fill="#B79F00"/>
<circle cx="129.30" cy="458.76" r="2.65" fill="#B79F00"/>
<circle cx="169.80" cy="460.88" r="2.65" fill="#B79F00"/>
<circle cx="210.30" cy="449.24" r="2.65" fill="#B79F00"/>
<circle cx="48.30" cy="350.51" r="2.65" fill="#00BA38"/>
<circle cx="88.80" cy="325.30" r="2.65" fill="#00BA38"/>
<circle cx="129.30" cy="323.36" r="2.65" fill="#00BA38"/>
<circle cx="169.80" cy="322.48" r="2.65" fill="#00BA38"/>
<circle cx="210.30" cy="323.36" r="2.65" fill="#00BA38"/>
<circle cx="48.30" cy="484.85" r="2.65" fill="#00B4F0"/>
<circle cx="88.80" cy="473.75" r="2.65" fill="#00B4F0"/>
<circle cx="129.30" cy="412.92" r="2.65" fill="#00B4F0"/>
<circle cx="169.80" cy="407.11" r="2.65" fill="#00B4F0"/>
<circle cx="210.30" cy="384.01" r="2.65" fill="#00B4F0"/>
<circle cx="48.30" cy="458.06" r="2.65" fill="#FF64B0"/>
<circle cx="88.80" cy="391.59" r="2.65" fill="#FF64B0"/>
<circle cx="129.30" cy="379.43" r="2.65" fill="#FF64B0"/>
<circle cx="169.80" cy="374.49" r="2.65" fill="#FF64B0"/>
<circle cx="210.30" cy="384.01" r="2.65" fill="#FF64B0"/>
<text x="240.20" y="266.30" font-size="10.2" text-anchor="start" font-weight="bold" fill="#000" >d</text>
<text x="370.60" y="265.00" font-size="8.15" text-anchor="middle" font-weight="bold" fill="#000" >Clustering with Proteome</text>
<line x1="276.75" y1="277.60" x2="284.15" y2="277.60" stroke="#F8766D" stroke-width="1.6"/>
<circle cx="280.45" cy="277.60" r="2.65" fill="#F8766D"/>
<text x="288.05" y="279.50" font-size="5.3" text-anchor="start" font-weight="normal" fill="#111" stroke="#111" stroke-width="0.1" >AP</text>
<line x1="276.75" y1="289.10" x2="284.15" y2="289.10" stroke="#DE8C00" stroke-width="1.6"/>
<circle cx="280.45" cy="289.10" r="2.65" fill="#DE8C00"/>
<text x="288.05" y="291.00" font-size="5.3" text-anchor="start" font-weight="normal" fill="#111" stroke="#111" stroke-width="0.1" >BLOCK</text>
<line x1="276.75" y1="300.50" x2="284.15" y2="300.50" stroke="#B79F00" stroke-width="1.6"/>
<circle cx="280.45" cy="300.50" r="2.65" fill="#B79F00"/>
<text x="288.05" y="302.40" font-size="5.3" text-anchor="start" font-weight="normal" fill="#111" stroke="#111" stroke-width="0.1" >CMEANS</text>
<line x1="314.45" y1="277.60" x2="321.85" y2="277.60" stroke="#7CAE00" stroke-width="1.6"/>
<circle cx="318.15" cy="277.60" r="2.65" fill="#7CAE00"/>
<text x="325.75" y="279.50" font-size="5.3" text-anchor="start" font-weight="normal" fill="#111" stroke="#111" stroke-width="0.1" >DIANA_Euclidean</text>
<line x1="314.45" y1="289.10" x2="321.85" y2="289.10" stroke="#00BA38" stroke-width="1.6"/>
<circle cx="318.15" cy="289.10" r="2.65" fill="#00BA38"/>
<text x="325.75" y="291.00" font-size="5.3" text-anchor="start" font-weight="normal" fill="#111" stroke="#111" stroke-width="0.1" >GMM</text>
<line x1="314.45" y1="300.50" x2="321.85" y2="300.50" stroke="#00C08B" stroke-width="1.6"/>
<circle cx="318.15" cy="300.50" r="2.65" fill="#00C08B"/>
<text x="325.75" y="302.40" font-size="5.3" text-anchor="start" font-weight="normal" fill="#111" stroke="#111" stroke-width="0.1" >HC_Euclidean</text>
<line x1="371.25" y1="277.60" x2="378.65" y2="277.60" stroke="#00BFC4" stroke-width="1.6"/>
<circle cx="374.95" cy="277.60" r="2.65" fill="#00BFC4"/>
<text x="382.55" y="279.50" font-size="5.3" text-anchor="start" font-weight="normal" fill="#111" stroke="#111" stroke-width="0.1" >KM</text>
<line x1="371.25" y1="289.10" x2="378.65" y2="289.10" stroke="#00B4F0" stroke-width="1.6"/>
<circle cx="374.95" cy="289.10" r="2.65" fill="#00B4F0"/>
<text x="382.55" y="291.00" font-size="5.3" text-anchor="start" font-weight="normal" fill="#111" stroke="#111" stroke-width="0.1" >NMF_Brunet</text>
<line x1="371.25" y1="300.50" x2="378.65" y2="300.50" stroke="#619CFF" stroke-width="1.6"/>
<circle cx="374.95" cy="300.50" r="2.65" fill="#619CFF"/>
<text x="382.55" y="302.40" font-size="5.3" text-anchor="start" font-weight="normal" fill="#111" stroke="#111" stroke-width="0.1" >NMF_Lee</text>
<line x1="416.15" y1="277.60" x2="423.55" y2="277.60" stroke="#C77CFF" stroke-width="1.6"/>
<circle cx="419.85" cy="277.60" r="2.65" fill="#C77CFF"/>
<text x="427.45" y="279.50" font-size="5.3" text-anchor="start" font-weight="normal" fill="#111" stroke="#111" stroke-width="0.1" >PAM_Euclidean</text>
<line x1="416.15" y1="289.10" x2="423.55" y2="289.10" stroke="#F564E3" stroke-width="1.6"/>
<circle cx="419.85" cy="289.10" r="2.65" fill="#F564E3"/>
<text x="427.45" y="291.00" font-size="5.3" text-anchor="start" font-weight="normal" fill="#111" stroke="#111" stroke-width="0.1" >SC</text>
<line x1="416.15" y1="300.50" x2="423.55" y2="300.50" stroke="#FF64B0" stroke-width="1.6"/>
<circle cx="419.85" cy="300.50" r="2.65" fill="#FF64B0"/>
<text x="427.45" y="302.40" font-size="5.3" text-anchor="start" font-weight="normal" fill="#111" stroke="#111" stroke-width="0.1" >SOM</text>
<line x1="265.50" y1="313.80" x2="265.50" y2="492.30" stroke="#333" stroke-width="0.9"/>
<line x1="265.50" y1="492.30" x2="475.70" y2="492.30" stroke="#777" stroke-width="1.2"/>
<line x1="263.50" y1="450.88" x2="265.50" y2="450.88" stroke="#333" stroke-width="0.8"/>
<text x="261.70" y="453.18" font-size="6.6" text-anchor="end" font-weight="normal" fill="#333" stroke="#333" stroke-width="0.1" >0.25</text>
<line x1="263.50" y1="405.55" x2="265.50" y2="405.55" stroke="#333" stroke-width="0.8"/>
<text x="261.70" y="407.85" font-size="6.6" text-anchor="end" font-weight="normal" fill="#333" stroke="#333" stroke-width="0.1" >0.50</text>
<line x1="263.50" y1="360.22" x2="265.50" y2="360.22" stroke="#333" stroke-width="0.8"/>
<text x="261.70" y="362.52" font-size="6.6" text-anchor="end" font-weight="normal" fill="#333" stroke="#333" stroke-width="0.1" >0.75</text>
<line x1="263.50" y1="314.90" x2="265.50" y2="314.90" stroke="#333" stroke-width="0.8"/>
<text x="261.70" y="317.20" font-size="6.6" text-anchor="end" font-weight="normal" fill="#333" stroke="#333" stroke-width="0.1" >1.00</text>
<line x1="289.60" y1="492.30" x2="289.60" y2="494.30" stroke="#333" stroke-width="0.8"/>
<text x="289.60" y="500.60" font-size="6.6" text-anchor="middle" font-weight="normal" fill="#333" stroke="#333" stroke-width="0.1" >2</text>
<line x1="330.00" y1="492.30" x2="330.00" y2="494.30" stroke="#333" stroke-width="0.8"/>
<text x="330.00" y="500.60" font-size="6.6" text-anchor="middle" font-weight="normal" fill="#333" stroke="#333" stroke-width="0.1" >3</text>
<line x1="370.40" y1="492.30" x2="370.40" y2="494.30" stroke="#333" stroke-width="0.8"/>
<text x="370.40" y="500.60" font-size="6.6" text-anchor="middle" font-weight="normal" fill="#333" stroke="#333" stroke-width="0.1" >4</text>
<line x1="410.80" y1="492.30" x2="410.80" y2="494.30" stroke="#333" stroke-width="0.8"/>
<text x="410.80" y="500.60" font-size="6.6" text-anchor="middle" font-weight="normal" fill="#333" stroke="#333" stroke-width="0.1" >5</text>
<line x1="451.20" y1="492.30" x2="451.20" y2="494.30" stroke="#333" stroke-width="0.8"/>
<text x="451.20" y="500.60" font-size="6.6" text-anchor="middle" font-weight="normal" fill="#333" stroke="#333" stroke-width="0.1" >6</text>
<text x="370.60" y="508.60" font-size="6.6" text-anchor="middle" font-weight="normal" fill="#000" stroke="#000" stroke-width="0.1" >Number of clusters (k)</text>
<text x="0" y="0" font-size="6.6" text-anchor="middle" transform="translate(247.10,403.05) rotate(-90)">PAC Value</text>
<polyline points="289.60,326.14 330.00,353.15 370.40,366.75 410.80,383.43 451.20,389.23" fill="none" stroke="#F8766D" stroke-width="1.45"/>
<polyline points="289.60,472.45 330.00,449.97 370.40,414.07 410.80,402.29 451.20,400.47" fill="none" stroke="#DE8C00" stroke-width="1.45" stroke-dasharray="2.4 2.4"/>
<polyline points="289.60,460.12 330.00,449.06 370.40,398.30 410.80,398.30 451.20,400.47" fill="none" stroke="#B79F00" stroke-width="1.45" stroke-dasharray="3.4 2.4"/>
<polyline points="289.60,410.45 330.00,365.66 370.40,368.38 410.80,371.65 451.20,379.99" fill="none" stroke="#7CAE00" stroke-width="1.45" stroke-dasharray="5 4.5"/>
<polyline points="289.60,414.98 330.00,372.01 370.40,402.65 410.80,393.95 451.20,396.48" fill="none" stroke="#00BA38" stroke-width="1.45" stroke-dasharray="1.3 3.7"/>
<polyline points="289.60,444.17 330.00,430.03 370.40,411.71 410.80,396.48 451.20,394.67" fill="none" stroke="#00C08B" stroke-width="1.45" stroke-dasharray="4.5 2.2 1.4 2.2"/>
<polyline points="289.60,456.86 330.00,430.39 370.40,391.41 410.80,391.77 451.20,396.48" fill="none" stroke="#00BFC4" stroke-width="1.45" stroke-dasharray="6.5 3"/>
<polyline points="289.60,484.78 330.00,423.68 370.40,420.24 410.80,424.59 451.20,435.46" fill="none" stroke="#00B4F0" stroke-width="1.45" stroke-dasharray="3.5 2.2 1.4 2.2"/>
<polyline points="289.60,472.45 330.00,477.34 370.40,410.63 410.80,412.62 451.20,421.32" fill="none" stroke="#619CFF" stroke-width="1.45"/>
<polyline points="289.60,345.54 330.00,353.15 370.40,365.12 410.80,386.33 451.20,393.22" fill="none" stroke="#C77CFF" stroke-width="1.45" stroke-dasharray="6.5 3"/>
<polyline points="289.60,372.01 330.00,377.81 370.40,372.19 410.80,387.42 451.20,400.11" fill="none" stroke="#F564E3" stroke-width="1.45"/>
<polyline points="289.60,353.15 330.00,323.24 370.40,322.33 410.80,324.33 451.20,333.94" fill="none" stroke="#FF64B0" stroke-width="1.45"/>
<circle cx="289.60" cy="345.54" r="2.65" fill="#C77CFF"/>
<circle cx="330.00" cy="353.15" r="2.65" fill="#C77CFF"/>
<circle cx="370.40" cy="365.12" r="2.65" fill="#C77CFF"/>
<circle cx="410.80" cy="386.33" r="2.65" fill="#C77CFF"/>
<circle cx="451.20" cy="393.22" r="2.65" fill="#C77CFF"/>
<circle cx="289.60" cy="472.45" r="2.65" fill="#619CFF"/>
<circle cx="330.00" cy="477.34" r="2.65" fill="#619CFF"/>
<circle cx="370.40" cy="410.63" r="2.65" fill="#619CFF"/>
<circle cx="410.80" cy="412.62" r="2.65" fill="#619CFF"/>
<circle cx="451.20" cy="421.32" r="2.65" fill="#619CFF"/>
<circle cx="289.60" cy="444.17" r="2.65" fill="#00C08B"/>
<circle cx="330.00" cy="430.03" r="2.65" fill="#00C08B"/>
<circle cx="370.40" cy="411.71" r="2.65" fill="#00C08B"/>
<circle cx="410.80" cy="396.48" r="2.65" fill="#00C08B"/>
<circle cx="451.20" cy="394.67" r="2.65" fill="#00C08B"/>
<circle cx="289.60" cy="472.45" r="2.65" fill="#DE8C00"/>
<circle cx="330.00" cy="449.97" r="2.65" fill="#DE8C00"/>
<circle cx="370.40" cy="414.07" r="2.65" fill="#DE8C00"/>
<circle cx="410.80" cy="402.29" r="2.65" fill="#DE8C00"/>
<circle cx="451.20" cy="400.47" r="2.65" fill="#DE8C00"/>
<circle cx="289.60" cy="410.45" r="2.65" fill="#7CAE00"/>
<circle cx="330.00" cy="365.66" r="2.65" fill="#7CAE00"/>
<circle cx="370.40" cy="368.38" r="2.65" fill="#7CAE00"/>
<circle cx="410.80" cy="371.65" r="2.65" fill="#7CAE00"/>
<circle cx="451.20" cy="379.99" r="2.65" fill="#7CAE00"/>
<circle cx="289.60" cy="456.86" r="2.65" fill="#00BFC4"/>
<circle cx="330.00" cy="430.39" r="2.65" fill="#00BFC4"/>
<circle cx="370.40" cy="391.41" r="2.65" fill="#00BFC4"/>
<circle cx="410.80" cy="391.77" r="2.65" fill="#00BFC4"/>
<circle cx="451.20" cy="396.48" r="2.65" fill="#00BFC4"/>
<circle cx="289.60" cy="414.98" r="2.65" fill="#00BA38"/>
<circle cx="330.00" cy="372.01" r="2.65" fill="#00BA38"/>
<circle cx="370.40" cy="402.65" r="2.65" fill="#00BA38"/>
<circle cx="410.80" cy="393.95" r="2.65" fill="#00BA38"/>
<circle cx="451.20" cy="396.48" r="2.65" fill="#00BA38"/>
<circle cx="289.60" cy="484.78" r="2.65" fill="#00B4F0"/>
<circle cx="330.00" cy="423.68" r="2.65" fill="#00B4F0"/>
<circle cx="370.40" cy="420.24" r="2.65" fill="#00B4F0"/>
<circle cx="410.80" cy="424.59" r="2.65" fill="#00B4F0"/>
<circle cx="451.20" cy="435.46" r="2.65" fill="#00B4F0"/>
<circle cx="289.60" cy="326.14" r="2.65" fill="#F8766D"/>
<circle cx="330.00" cy="353.15" r="2.65" fill="#F8766D"/>
<circle cx="370.40" cy="366.75" r="2.65" fill="#F8766D"/>
<circle cx="410.80" cy="383.43" r="2.65" fill="#F8766D"/>
<circle cx="451.20" cy="389.23" r="2.65" fill="#F8766D"/>
<circle cx="289.60" cy="372.01" r="2.65" fill="#F564E3"/>
<circle cx="330.00" cy="377.81" r="2.65" fill="#F564E3"/>
<circle cx="370.40" cy="372.19" r="2.65" fill="#F564E3"/>
<circle cx="410.80" cy="387.42" r="2.65" fill="#F564E3"/>
<circle cx="451.20" cy="400.11" r="2.65" fill="#F564E3"/>
<circle cx="289.60" cy="460.12" r="2.65" fill="#B79F00"/>
<circle cx="330.00" cy="449.06" r="2.65" fill="#B79F00"/>
<circle cx="370.40" cy="398.30" r="2.65" fill="#B79F00"/>
<circle cx="410.80" cy="398.30" r="2.65" fill="#B79F00"/>
<circle cx="451.20" cy="400.47" r="2.65" fill="#B79F00"/>
<circle cx="289.60" cy="353.15" r="2.65" fill="#FF64B0"/>
<circle cx="330.00" cy="323.24" r="2.65" fill="#FF64B0"/>
<circle cx="370.40" cy="322.33" r="2.65" fill="#FF64B0"/>
<circle cx="410.80" cy="324.33" r="2.65" fill="#FF64B0"/>
<circle cx="451.20" cy="333.94" r="2.65" fill="#FF64B0"/>
<rect x="497.20" y="8.20" width="186.00" height="144.20" fill="#EBEBEB"/>
<line x1="497.20" y1="131.75" x2="683.20" y2="131.75" stroke="#fff" stroke-width="0.5"/>
<line x1="497.20" y1="103.05" x2="683.20" y2="103.05" stroke="#fff" stroke-width="0.5"/>
<line x1="497.20" y1="74.35" x2="683.20" y2="74.35" stroke="#fff" stroke-width="0.5"/>
<line x1="497.20" y1="45.65" x2="683.20" y2="45.65" stroke="#fff" stroke-width="0.5"/>
<line x1="497.20" y1="16.95" x2="683.20" y2="16.95" stroke="#fff" stroke-width="0.5"/>
<line x1="497.20" y1="146.10" x2="683.20" y2="146.10" stroke="#fff" stroke-width="1"/>
<line x1="497.20" y1="117.40" x2="683.20" y2="117.40" stroke="#fff" stroke-width="1"/>
<line x1="497.20" y1="88.70" x2="683.20" y2="88.70" stroke="#fff" stroke-width="1"/>
<line x1="497.20" y1="60.00" x2="683.20" y2="60.00" stroke="#fff" stroke-width="1"/>
<line x1="497.20" y1="31.30" x2="683.20" y2="31.30" stroke="#fff" stroke-width="1"/>
<line x1="517.10" y1="8.20" x2="517.10" y2="152.40" stroke="#fff" stroke-width="1"/>
<line x1="565.70" y1="8.20" x2="565.70" y2="152.40" stroke="#fff" stroke-width="1"/>
<line x1="614.60" y1="8.20" x2="614.60" y2="152.40" stroke="#fff" stroke-width="1"/>
<line x1="663.60" y1="8.20" x2="663.60" y2="152.40" stroke="#fff" stroke-width="1"/>
<path d="M525.40,15.20 C541.40,15.20 541.40,15.20 557.40,15.20 L557.40,65.30 C541.40,65.30 541.40,65.30 525.40,65.30 Z" fill="#F8766D" fill-opacity="0.5"/>
<path d="M525.40,65.30 C541.40,65.30 541.40,66.30 557.40,66.30 L557.40,105.90 C541.40,105.90 541.40,104.90 525.40,104.90 Z" fill="#F8766D" fill-opacity="0.5"/>
<path d="M525.40,104.90 C541.40,104.90 541.40,108.30 557.40,108.30 L557.40,144.50 C541.40,144.50 541.40,141.60 525.40,141.60 Z" fill="#F8766D" fill-opacity="0.5"/>
<path d="M525.40,141.40 C541.40,141.40 541.40,64.90 557.40,64.90 L557.40,66.30 C541.40,66.30 541.40,142.80 525.40,142.80 Z" fill="#00BFC4" fill-opacity="0.5"/>
<path d="M525.40,142.80 C541.40,142.80 541.40,105.50 557.40,105.50 L557.40,108.30 C541.40,108.30 541.40,145.20 525.40,145.20 Z" fill="#00BFC4" fill-opacity="0.5"/>
<path d="M525.40,145.00 C541.40,145.00 541.40,144.90 557.40,144.90 L557.40,146.10 C541.40,146.10 541.40,146.10 525.40,146.10 Z" fill="#00BFC4" fill-opacity="0.5"/>
<path d="M574.00,15.20 C590.15,15.20 590.15,15.20 606.30,15.20 L606.30,32.00 C590.15,32.00 590.15,32.00 574.00,32.00 Z" fill="#F8766D" fill-opacity="0.5"/>
<path d="M574.00,32.00 C590.15,32.00 590.15,48.20 606.30,48.20 L606.30,81.40 C590.15,81.40 590.15,65.20 574.00,65.20 Z" fill="#F8766D" fill-opacity="0.5"/>
<path d="M574.00,65.20 C590.15,65.20 590.15,94.20 606.30,94.20 L606.30,113.70 C590.15,113.70 590.15,84.80 574.00,84.80 Z" fill="#F8766D" fill-opacity="0.5"/>
<path d="M574.00,84.80 C590.15,84.80 590.15,118.10 606.30,118.10 L606.30,141.60 C590.15,141.60 590.15,108.30 574.00,108.30 Z" fill="#F8766D" fill-opacity="0.5"/>
<path d="M574.00,108.30 C590.15,108.30 590.15,32.50 606.30,32.50 L606.30,48.20 C590.15,48.20 590.15,124.00 574.00,124.00 Z" fill="#00BFC4" fill-opacity="0.5"/>
<path d="M574.00,124.00 C590.15,124.00 590.15,81.40 606.30,81.40 L606.30,94.20 C590.15,94.20 590.15,136.70 574.00,136.70 Z" fill="#00BFC4" fill-opacity="0.5"/>
<path d="M574.00,136.70 C590.15,136.70 590.15,113.70 606.30,113.70 L606.30,118.10 C590.15,118.10 590.15,141.60 574.00,141.60 Z" fill="#00BFC4" fill-opacity="0.5"/>
<path d="M574.00,141.60 C590.15,141.60 590.15,141.60 606.30,141.60 L606.30,146.10 C590.15,146.10 590.15,146.10 574.00,146.10 Z" fill="#00BFC4" fill-opacity="0.5"/>
<path d="M622.90,15.20 C639.10,15.20 639.10,15.20 655.30,15.20 L655.30,48.20 C639.10,48.20 639.10,48.20 622.90,48.20 Z" fill="#F8766D" fill-opacity="0.5"/>
<path d="M622.90,48.20 C639.10,48.20 639.10,71.60 655.30,71.60 L655.30,117.60 C639.10,117.60 639.10,94.20 622.90,94.20 Z" fill="#F8766D" fill-opacity="0.5"/>
<path d="M622.90,94.20 C639.10,94.20 639.10,48.20 655.30,48.20 L655.30,71.60 C639.10,71.60 639.10,117.60 622.90,117.60 Z" fill="#00BFC4" fill-opacity="0.5"/>
<path d="M622.90,117.60 C639.10,117.60 639.10,117.60 655.30,117.60 L655.30,146.10 C639.10,146.10 639.10,146.10 622.90,146.10 Z" fill="#00BFC4" fill-opacity="0.5"/>
<rect x="508.80" y="15.20" width="16.60" height="126.40" fill="#F8766D" fill-opacity="0.5" stroke="#222" stroke-width="0.75"/>
<text x="517.10" y="80.30" font-size="5.2" text-anchor="middle" font-weight="normal" fill="#333" >1</text>
<rect x="508.80" y="141.60" width="16.60" height="4.50" fill="#00BFC4" fill-opacity="0.5" stroke="#222" stroke-width="0.75"/>
<text x="517.10" y="145.75" font-size="5.2" text-anchor="middle" font-weight="normal" fill="#333" >2</text>
<rect x="557.40" y="15.20" width="16.60" height="93.10" fill="#F8766D" fill-opacity="0.5" stroke="#222" stroke-width="0.75"/>
<text x="565.70" y="63.65" font-size="5.2" text-anchor="middle" font-weight="normal" fill="#333" >1</text>
<rect x="557.40" y="108.30" width="16.60" height="37.80" fill="#00BFC4" fill-opacity="0.5" stroke="#222" stroke-width="0.75"/>
<text x="565.70" y="129.10" font-size="5.2" text-anchor="middle" font-weight="normal" fill="#333" >2</text>
<rect x="606.30" y="15.20" width="16.60" height="79.00" fill="#F8766D" fill-opacity="0.5" stroke="#222" stroke-width="0.75"/>
<text x="614.60" y="56.60" font-size="5.2" text-anchor="middle" font-weight="normal" fill="#333" >1</text>
<rect x="606.30" y="94.20" width="16.60" height="51.90" fill="#00BFC4" fill-opacity="0.5" stroke="#222" stroke-width="0.75"/>
<text x="614.60" y="122.05" font-size="5.2" text-anchor="middle" font-weight="normal" fill="#333" >2</text>
<rect x="655.30" y="15.20" width="16.60" height="56.40" fill="#F8766D" fill-opacity="0.5" stroke="#222" stroke-width="0.75"/>
<text x="663.60" y="45.30" font-size="5.2" text-anchor="middle" font-weight="normal" fill="#333" >1</text>
<rect x="655.30" y="71.60" width="16.60" height="74.50" fill="#00BFC4" fill-opacity="0.5" stroke="#222" stroke-width="0.75"/>
<text x="663.60" y="110.75" font-size="5.2" text-anchor="middle" font-weight="normal" fill="#333" >2</text>
<line x1="495.60" y1="146.10" x2="497.20" y2="146.10" stroke="#333" stroke-width="0.5"/>
<text x="495.00" y="147.60" font-size="4.25" text-anchor="end" font-weight="normal" fill="#4d4d4d" stroke="#4d4d4d" stroke-width="0.1" >0</text>
<line x1="495.60" y1="117.40" x2="497.20" y2="117.40" stroke="#333" stroke-width="0.5"/>
<text x="495.00" y="118.90" font-size="4.25" text-anchor="end" font-weight="normal" fill="#4d4d4d" stroke="#4d4d4d" stroke-width="0.1" >100</text>
<line x1="495.60" y1="88.70" x2="497.20" y2="88.70" stroke="#333" stroke-width="0.5"/>
<text x="495.00" y="90.20" font-size="4.25" text-anchor="end" font-weight="normal" fill="#4d4d4d" stroke="#4d4d4d" stroke-width="0.1" >200</text>
<line x1="495.60" y1="60.00" x2="497.20" y2="60.00" stroke="#333" stroke-width="0.5"/>
<text x="495.00" y="61.50" font-size="4.25" text-anchor="end" font-weight="normal" fill="#4d4d4d" stroke="#4d4d4d" stroke-width="0.1" >300</text>
<line x1="495.60" y1="31.30" x2="497.20" y2="31.30" stroke="#333" stroke-width="0.5"/>
<text x="495.00" y="32.80" font-size="4.25" text-anchor="end" font-weight="normal" fill="#4d4d4d" stroke="#4d4d4d" stroke-width="0.1" >400</text>
<line x1="517.10" y1="152.40" x2="517.10" y2="154.00" stroke="#333" stroke-width="0.5"/>
<text x="517.10" y="158.40" font-size="4.25" text-anchor="middle" font-weight="normal" fill="#4d4d4d" stroke="#4d4d4d" stroke-width="0.1" >Metabolome_cluster</text>
<line x1="565.70" y1="152.40" x2="565.70" y2="154.00" stroke="#333" stroke-width="0.5"/>
<text x="565.70" y="158.40" font-size="4.25" text-anchor="middle" font-weight="normal" fill="#4d4d4d" stroke="#4d4d4d" stroke-width="0.1" >Phenome_cluster</text>
<line x1="614.60" y1="152.40" x2="614.60" y2="154.00" stroke="#333" stroke-width="0.5"/>
<text x="614.60" y="158.40" font-size="4.25" text-anchor="middle" font-weight="normal" fill="#4d4d4d" stroke="#4d4d4d" stroke-width="0.1" >Proteome_cluster</text>
<line x1="663.60" y1="152.40" x2="663.60" y2="154.00" stroke="#333" stroke-width="0.5"/>
<text x="663.60" y="158.40" font-size="4.25" text-anchor="middle" font-weight="normal" fill="#4d4d4d" stroke="#4d4d4d" stroke-width="0.1" >Transcriptome_cluster</text>
<text x="590.20" y="164.50" font-size="5.4" text-anchor="middle" font-weight="normal" fill="#000" stroke="#000" stroke-width="0.1" >Omics_type</text>
<text x="0" y="0" font-size="5.4" text-anchor="middle" transform="translate(485.9,80.60) rotate(-90)">count</text>
<text x="497.30" y="4.90" font-size="6.22" text-anchor="start" font-weight="normal" fill="#000" stroke="#000" stroke-width="0.1" >Number of Clusters (k) = 2</text>
<text x="481.30" y="8.40" font-size="10.2" text-anchor="start" font-weight="bold" fill="#000" >e</text>
<rect x="497.20" y="179.00" width="186.00" height="143.30" fill="#EBEBEB"/>
<line x1="497.20" y1="301.65" x2="683.20" y2="301.65" stroke="#fff" stroke-width="0.5"/>
<line x1="497.20" y1="272.95" x2="683.20" y2="272.95" stroke="#fff" stroke-width="0.5"/>
<line x1="497.20" y1="244.25" x2="683.20" y2="244.25" stroke="#fff" stroke-width="0.5"/>
<line x1="497.20" y1="215.55" x2="683.20" y2="215.55" stroke="#fff" stroke-width="0.5"/>
<line x1="497.20" y1="186.85" x2="683.20" y2="186.85" stroke="#fff" stroke-width="0.5"/>
<line x1="497.20" y1="316.00" x2="683.20" y2="316.00" stroke="#fff" stroke-width="1"/>
<line x1="497.20" y1="287.30" x2="683.20" y2="287.30" stroke="#fff" stroke-width="1"/>
<line x1="497.20" y1="258.60" x2="683.20" y2="258.60" stroke="#fff" stroke-width="1"/>
<line x1="497.20" y1="229.90" x2="683.20" y2="229.90" stroke="#fff" stroke-width="1"/>
<line x1="497.20" y1="201.20" x2="683.20" y2="201.20" stroke="#fff" stroke-width="1"/>
<line x1="517.10" y1="179.00" x2="517.10" y2="322.30" stroke="#fff" stroke-width="1"/>
<line x1="565.70" y1="179.00" x2="565.70" y2="322.30" stroke="#fff" stroke-width="1"/>
<line x1="614.60" y1="179.00" x2="614.60" y2="322.30" stroke="#fff" stroke-width="1"/>
<line x1="663.60" y1="179.00" x2="663.60" y2="322.30" stroke="#fff" stroke-width="1"/>
<path d="M525.40,185.30 C541.40,185.30 541.40,185.30 557.40,185.30 L557.40,190.33 C541.40,190.33 541.40,190.71 525.40,190.71 Z" fill="#F8766D" fill-opacity="0.5"/>
<path d="M525.40,190.71 C541.40,190.71 541.40,190.75 557.40,190.75 L557.40,203.16 C541.40,203.16 541.40,204.05 525.40,204.05 Z" fill="#F8766D" fill-opacity="0.5"/>
<path d="M525.40,204.05 C541.40,204.05 541.40,209.79 557.40,209.79 L557.40,212.46 C541.40,212.46 541.40,206.92 525.40,206.92 Z" fill="#F8766D" fill-opacity="0.5"/>
<path d="M525.40,206.92 C541.40,206.92 541.40,216.21 557.40,216.21 L557.40,225.30 C541.40,225.30 541.40,216.70 525.40,216.70 Z" fill="#F8766D" fill-opacity="0.5"/>
<path d="M525.40,216.70 C541.40,216.70 541.40,229.58 557.40,229.58 L557.40,233.85 C541.40,233.85 541.40,221.30 525.40,221.30 Z" fill="#F8766D" fill-opacity="0.5"/>
<path d="M525.40,221.30 C541.40,221.30 541.40,236.53 557.40,236.53 L557.40,239.73 C541.40,239.73 541.40,224.75 525.40,224.75 Z" fill="#F8766D" fill-opacity="0.5"/>
<path d="M525.40,224.75 C541.40,224.75 541.40,243.80 557.40,243.80 L557.40,250.22 C541.40,250.22 541.40,231.65 525.40,231.65 Z" fill="#F8766D" fill-opacity="0.5"/>
<path d="M525.40,231.65 C541.40,231.65 541.40,256.63 557.40,256.63 L557.40,259.84 C541.40,259.84 541.40,235.10 525.40,235.10 Z" fill="#F8766D" fill-opacity="0.5"/>
<path d="M525.40,235.10 C541.40,235.10 541.40,269.67 557.40,269.67 L557.40,273.35 C541.40,273.35 541.40,239.70 525.40,239.70 Z" fill="#F8766D" fill-opacity="0.5"/>
<path d="M525.40,239.70 C541.40,239.70 541.40,277.04 557.40,277.04 L557.40,284.41 C541.40,284.41 541.40,248.90 525.40,248.90 Z" fill="#F8766D" fill-opacity="0.5"/>
<path d="M525.40,248.90 C541.40,248.90 541.40,287.17 557.40,287.17 L557.40,292.70 C541.40,292.70 541.40,255.80 525.40,255.80 Z" fill="#F8766D" fill-opacity="0.5"/>
<path d="M525.40,255.80 C541.40,255.80 541.40,296.38 557.40,296.38 L557.40,307.43 C541.40,307.43 541.40,269.60 525.40,269.60 Z" fill="#F8766D" fill-opacity="0.5"/>
<path d="M525.40,269.60 C541.40,269.60 541.40,309.74 557.40,309.74 L557.40,312.50 C541.40,312.50 541.40,273.05 525.40,273.05 Z" fill="#F8766D" fill-opacity="0.5"/>
<path d="M525.40,273.05 C541.40,273.05 541.40,312.50 557.40,312.50 L557.40,313.50 C541.40,313.50 541.40,274.20 525.40,274.20 Z" fill="#F8766D" fill-opacity="0.5"/>
<path d="M525.40,274.20 C541.40,274.20 541.40,190.33 557.40,190.33 L557.40,190.75 C541.40,190.75 541.40,274.51 525.40,274.51 Z" fill="#00BA38" fill-opacity="0.5"/>
<path d="M525.40,274.51 C541.40,274.51 541.40,203.16 557.40,203.16 L557.40,208.93 C541.40,208.93 541.40,278.68 525.40,278.68 Z" fill="#00BA38" fill-opacity="0.5"/>
<path d="M525.40,278.68 C541.40,278.68 541.40,212.46 557.40,212.46 L557.40,215.67 C541.40,215.67 541.40,281.00 525.40,281.00 Z" fill="#00BA38" fill-opacity="0.5"/>
<path d="M525.40,281.00 C541.40,281.00 541.40,225.30 557.40,225.30 L557.40,229.04 C541.40,229.04 541.40,283.71 525.40,283.71 Z" fill="#00BA38" fill-opacity="0.5"/>
<path d="M525.40,283.71 C541.40,283.71 541.40,233.85 557.40,233.85 L557.40,236.53 C541.40,236.53 541.40,285.64 525.40,285.64 Z" fill="#00BA38" fill-opacity="0.5"/>
<path d="M525.40,285.64 C541.40,285.64 541.40,239.73 557.40,239.73 L557.40,242.94 C541.40,242.94 541.40,287.96 525.40,287.96 Z" fill="#00BA38" fill-opacity="0.5"/>
<path d="M525.40,287.96 C541.40,287.96 541.40,250.22 557.40,250.22 L557.40,253.42 C541.40,253.42 541.40,290.28 525.40,290.28 Z" fill="#00BA38" fill-opacity="0.5"/>
<path d="M525.40,290.28 C541.40,290.28 541.40,259.84 557.40,259.84 L557.40,262.30 C541.40,262.30 541.40,292.05 525.40,292.05 Z" fill="#00BA38" fill-opacity="0.5"/>
<path d="M525.40,292.05 C541.40,292.05 541.40,262.30 557.40,262.30 L557.40,269.67 C541.40,269.67 541.40,298.24 525.40,298.24 Z" fill="#00BA38" fill-opacity="0.5"/>
<path d="M525.40,298.24 C541.40,298.24 541.40,273.35 557.40,273.35 L557.40,277.04 C541.40,277.04 541.40,301.33 525.40,301.33 Z" fill="#00BA38" fill-opacity="0.5"/>
<path d="M525.40,301.33 C541.40,301.33 541.40,284.41 557.40,284.41 L557.40,287.17 C541.40,287.17 541.40,303.65 525.40,303.65 Z" fill="#00BA38" fill-opacity="0.5"/>
<path d="M525.40,303.65 C541.40,303.65 541.40,292.70 557.40,292.70 L557.40,295.46 C541.40,295.46 541.40,305.97 525.40,305.97 Z" fill="#00BA38" fill-opacity="0.5"/>
<path d="M525.40,305.97 C541.40,305.97 541.40,307.43 557.40,307.43 L557.40,308.82 C541.40,308.82 541.40,307.13 525.40,307.13 Z" fill="#00BA38" fill-opacity="0.5"/>
<path d="M525.40,307.13 C541.40,307.13 541.40,313.50 557.40,313.50 L557.40,314.50 C541.40,314.50 541.40,307.90 525.40,307.90 Z" fill="#00BA38" fill-opacity="0.5"/>
<path d="M525.40,307.90 C541.40,307.90 541.40,208.93 557.40,208.93 L557.40,209.79 C541.40,209.79 541.40,308.61 525.40,308.61 Z" fill="#619CFF" fill-opacity="0.5"/>
<path d="M525.40,308.61 C541.40,308.61 541.40,215.67 557.40,215.67 L557.40,216.21 C541.40,216.21 541.40,309.06 525.40,309.06 Z" fill="#619CFF" fill-opacity="0.5"/>
<path d="M525.40,309.06 C541.40,309.06 541.40,229.04 557.40,229.04 L557.40,229.58 C541.40,229.58 541.40,309.50 525.40,309.50 Z" fill="#619CFF" fill-opacity="0.5"/>
<path d="M525.40,309.50 C541.40,309.50 541.40,242.94 557.40,242.94 L557.40,243.80 C541.40,243.80 541.40,310.21 525.40,310.21 Z" fill="#619CFF" fill-opacity="0.5"/>
<path d="M525.40,310.21 C541.40,310.21 541.40,253.42 557.40,253.42 L557.40,256.63 C541.40,256.63 541.40,312.88 525.40,312.88 Z" fill="#619CFF" fill-opacity="0.5"/>
<path d="M525.40,312.88 C541.40,312.88 541.40,295.46 557.40,295.46 L557.40,296.38 C541.40,296.38 541.40,313.77 525.40,313.77 Z" fill="#619CFF" fill-opacity="0.5"/>
<path d="M525.40,313.77 C541.40,313.77 541.40,308.82 557.40,308.82 L557.40,309.74 C541.40,309.74 541.40,314.66 525.40,314.66 Z" fill="#619CFF" fill-opacity="0.5"/>
<path d="M525.40,314.66 C541.40,314.66 541.40,314.50 557.40,314.50 L557.40,316.00 C541.40,316.00 541.40,316.00 525.40,316.00 Z" fill="#619CFF" fill-opacity="0.5"/>
<path d="M574.00,185.30 C590.15,185.30 590.15,185.30 606.30,185.30 L606.30,190.75 C590.15,190.75 590.15,191.38 574.00,191.38 Z" fill="#F8766D" fill-opacity="0.5"/>
<path d="M574.00,191.38 C590.15,191.38 590.15,202.63 606.30,202.63 L606.30,217.68 C590.15,217.68 590.15,208.17 574.00,208.17 Z" fill="#F8766D" fill-opacity="0.5"/>
<path d="M574.00,208.17 C590.15,208.17 590.15,225.70 606.30,225.70 L606.30,232.53 C590.15,232.53 590.15,215.79 574.00,215.79 Z" fill="#F8766D" fill-opacity="0.5"/>
<path d="M574.00,215.79 C590.15,215.79 590.15,240.74 606.30,240.74 L606.30,245.20 C590.15,245.20 590.15,220.76 574.00,220.76 Z" fill="#F8766D" fill-opacity="0.5"/>
<path d="M574.00,220.76 C590.15,220.76 590.15,245.20 606.30,245.20 L606.30,255.26 C590.15,255.26 590.15,232.03 574.00,232.03 Z" fill="#F8766D" fill-opacity="0.5"/>
<path d="M574.00,232.03 C590.15,232.03 590.15,262.85 606.30,262.85 L606.30,268.18 C590.15,268.18 590.15,238.00 574.00,238.00 Z" fill="#F8766D" fill-opacity="0.5"/>
<path d="M574.00,238.00 C590.15,238.00 590.15,281.20 606.30,281.20 L606.30,286.52 C590.15,286.52 590.15,243.96 574.00,243.96 Z" fill="#F8766D" fill-opacity="0.5"/>
<path d="M574.00,243.96 C590.15,243.96 590.15,294.80 606.30,294.80 L606.30,311.17 C590.15,311.17 590.15,262.30 574.00,262.30 Z" fill="#F8766D" fill-opacity="0.5"/>
<path d="M574.00,262.30 C590.15,262.30 590.15,190.75 606.30,190.75 L606.30,202.33 C590.15,202.33 590.15,272.17 574.00,272.17 Z" fill="#00BA38" fill-opacity="0.5"/>
<path d="M574.00,272.17 C590.15,272.17 590.15,217.68 606.30,217.68 L606.30,225.40 C590.15,225.40 590.15,278.75 574.00,278.75 Z" fill="#00BA38" fill-opacity="0.5"/>
<path d="M574.00,278.75 C590.15,278.75 590.15,232.53 606.30,232.53 L606.30,240.74 C590.15,240.74 590.15,285.75 574.00,285.75 Z" fill="#00BA38" fill-opacity="0.5"/>
<path d="M574.00,285.75 C590.15,285.75 590.15,255.26 606.30,255.26 L606.30,262.46 C590.15,262.46 590.15,291.91 574.00,291.91 Z" fill="#00BA38" fill-opacity="0.5"/>
<path d="M574.00,291.91 C590.15,291.91 590.15,268.18 606.30,268.18 L606.30,281.20 C590.15,281.20 590.15,303.05 574.00,303.05 Z" fill="#00BA38" fill-opacity="0.5"/>
<path d="M574.00,303.05 C590.15,303.05 590.15,286.52 606.30,286.52 L606.30,294.21 C590.15,294.21 590.15,309.63 574.00,309.63 Z" fill="#00BA38" fill-opacity="0.5"/>
<path d="M574.00,309.63 C590.15,309.63 590.15,311.17 606.30,311.17 L606.30,314.52 C590.15,314.52 590.15,312.50 574.00,312.50 Z" fill="#00BA38" fill-opacity="0.5"/>
<path d="M574.00,312.50 C590.15,312.50 590.15,202.33 606.30,202.33 L606.30,202.63 C590.15,202.63 590.15,312.84 574.00,312.84 Z" fill="#619CFF" fill-opacity="0.5"/>
<path d="M574.00,312.84 C590.15,312.84 590.15,225.40 606.30,225.40 L606.30,225.70 C590.15,225.70 590.15,313.18 574.00,313.18 Z" fill="#619CFF" fill-opacity="0.5"/>
<path d="M574.00,313.18 C590.15,313.18 590.15,262.46 606.30,262.46 L606.30,262.85 C590.15,262.85 590.15,313.63 574.00,313.63 Z" fill="#619CFF" fill-opacity="0.5"/>
<path d="M574.00,313.63 C590.15,313.63 590.15,294.21 606.30,294.21 L606.30,294.80 C590.15,294.80 590.15,314.31 574.00,314.31 Z" fill="#619CFF" fill-opacity="0.5"/>
<path d="M574.00,314.31 C590.15,314.31 590.15,314.52 606.30,314.52 L606.30,316.00 C590.15,316.00 590.15,316.00 574.00,316.00 Z" fill="#619CFF" fill-opacity="0.5"/>
<path d="M622.90,185.30 C639.10,185.30 639.10,185.30 655.30,185.30 L655.30,202.60 C639.10,202.60 639.10,202.60 622.90,202.60 Z" fill="#F8766D" fill-opacity="0.5"/>
<path d="M622.90,202.60 C639.10,202.60 639.10,236.30 655.30,236.30 L655.30,260.52 C639.10,260.52 639.10,226.10 622.90,226.10 Z" fill="#F8766D" fill-opacity="0.5"/>
<path d="M622.90,226.10 C639.10,226.10 639.10,283.20 655.30,283.20 L655.30,301.52 C639.10,301.52 639.10,245.20 622.90,245.20 Z" fill="#F8766D" fill-opacity="0.5"/>
<path d="M622.90,245.20 C639.10,245.20 639.10,202.60 655.30,202.60 L655.30,223.60 C639.10,223.60 639.10,266.20 622.90,266.20 Z" fill="#00BA38" fill-opacity="0.5"/>
<path d="M622.90,266.20 C639.10,266.20 639.10,260.52 655.30,260.52 L655.30,268.87 C639.10,268.87 639.10,274.30 622.90,274.30 Z" fill="#00BA38" fill-opacity="0.5"/>
<path d="M622.90,274.30 C639.10,274.30 639.10,301.52 655.30,301.52 L655.30,308.14 C639.10,308.14 639.10,281.20 622.90,281.20 Z" fill="#00BA38" fill-opacity="0.5"/>
<path d="M622.90,281.20 C639.10,281.20 639.10,223.60 655.30,223.60 L655.30,236.30 C639.10,236.30 639.10,293.90 622.90,293.90 Z" fill="#619CFF" fill-opacity="0.5"/>
<path d="M622.90,293.90 C639.10,293.90 639.10,268.87 655.30,268.87 L655.30,283.20 C639.10,283.20 639.10,307.80 622.90,307.80 Z" fill="#619CFF" fill-opacity="0.5"/>
<path d="M622.90,307.80 C639.10,307.80 639.10,308.14 655.30,308.14 L655.30,316.00 C639.10,316.00 639.10,316.00 622.90,316.00 Z" fill="#619CFF" fill-opacity="0.5"/>
<rect x="508.80" y="185.30" width="16.60" height="88.90" fill="#F8766D" fill-opacity="0.5" stroke="#222" stroke-width="0.75"/>
<text x="517.10" y="231.65" font-size="5.2" text-anchor="middle" font-weight="normal" fill="#333" >1</text>
<rect x="508.80" y="274.20" width="16.60" height="33.70" fill="#00BA38" fill-opacity="0.5" stroke="#222" stroke-width="0.75"/>
<text x="517.10" y="292.95" font-size="5.2" text-anchor="middle" font-weight="normal" fill="#333" >2</text>
<rect x="508.80" y="307.90" width="16.60" height="8.10" fill="#619CFF" fill-opacity="0.5" stroke="#222" stroke-width="0.75"/>
<text x="517.10" y="313.85" font-size="5.2" text-anchor="middle" font-weight="normal" fill="#333" >3</text>
<rect x="557.40" y="185.30" width="16.60" height="77.00" fill="#F8766D" fill-opacity="0.5" stroke="#222" stroke-width="0.75"/>
<text x="565.70" y="225.70" font-size="5.2" text-anchor="middle" font-weight="normal" fill="#333" >1</text>
<rect x="557.40" y="262.30" width="16.60" height="50.20" fill="#00BA38" fill-opacity="0.5" stroke="#222" stroke-width="0.75"/>
<text x="565.70" y="289.30" font-size="5.2" text-anchor="middle" font-weight="normal" fill="#333" >2</text>
<rect x="557.40" y="312.50" width="16.60" height="3.50" fill="#619CFF" fill-opacity="0.5" stroke="#222" stroke-width="0.75"/>
<text x="565.70" y="316.15" font-size="5.2" text-anchor="middle" font-weight="normal" fill="#333" >3</text>
<rect x="606.30" y="185.30" width="16.60" height="59.90" fill="#F8766D" fill-opacity="0.5" stroke="#222" stroke-width="0.75"/>
<text x="614.60" y="217.15" font-size="5.2" text-anchor="middle" font-weight="normal" fill="#333" >1</text>
<rect x="606.30" y="245.20" width="16.60" height="36.00" fill="#00BA38" fill-opacity="0.5" stroke="#222" stroke-width="0.75"/>
<text x="614.60" y="265.10" font-size="5.2" text-anchor="middle" font-weight="normal" fill="#333" >2</text>
<rect x="606.30" y="281.20" width="16.60" height="34.80" fill="#619CFF" fill-opacity="0.5" stroke="#222" stroke-width="0.75"/>
<text x="614.60" y="300.50" font-size="5.2" text-anchor="middle" font-weight="normal" fill="#333" >3</text>
<rect x="655.30" y="185.30" width="16.60" height="51.00" fill="#F8766D" fill-opacity="0.5" stroke="#222" stroke-width="0.75"/>
<text x="663.60" y="212.70" font-size="5.2" text-anchor="middle" font-weight="normal" fill="#333" >1</text>
<rect x="655.30" y="236.30" width="16.60" height="46.90" fill="#00BA38" fill-opacity="0.5" stroke="#222" stroke-width="0.75"/>
<text x="663.60" y="261.65" font-size="5.2" text-anchor="middle" font-weight="normal" fill="#333" >2</text>
<rect x="655.30" y="283.20" width="16.60" height="32.80" fill="#619CFF" fill-opacity="0.5" stroke="#222" stroke-width="0.75"/>
<text x="663.60" y="301.50" font-size="5.2" text-anchor="middle" font-weight="normal" fill="#333" >3</text>
<line x1="495.60" y1="316.00" x2="497.20" y2="316.00" stroke="#333" stroke-width="0.5"/>
<text x="495.00" y="317.50" font-size="4.25" text-anchor="end" font-weight="normal" fill="#4d4d4d" stroke="#4d4d4d" stroke-width="0.1" >0</text>
<line x1="495.60" y1="287.30" x2="497.20" y2="287.30" stroke="#333" stroke-width="0.5"/>
<text x="495.00" y="288.80" font-size="4.25" text-anchor="end" font-weight="normal" fill="#4d4d4d" stroke="#4d4d4d" stroke-width="0.1" >100</text>
<line x1="495.60" y1="258.60" x2="497.20" y2="258.60" stroke="#333" stroke-width="0.5"/>
<text x="495.00" y="260.10" font-size="4.25" text-anchor="end" font-weight="normal" fill="#4d4d4d" stroke="#4d4d4d" stroke-width="0.1" >200</text>
<line x1="495.60" y1="229.90" x2="497.20" y2="229.90" stroke="#333" stroke-width="0.5"/>
<text x="495.00" y="231.40" font-size="4.25" text-anchor="end" font-weight="normal" fill="#4d4d4d" stroke="#4d4d4d" stroke-width="0.1" >300</text>
<line x1="495.60" y1="201.20" x2="497.20" y2="201.20" stroke="#333" stroke-width="0.5"/>
<text x="495.00" y="202.70" font-size="4.25" text-anchor="end" font-weight="normal" fill="#4d4d4d" stroke="#4d4d4d" stroke-width="0.1" >400</text>
<line x1="517.10" y1="322.30" x2="517.10" y2="323.90" stroke="#333" stroke-width="0.5"/>
<text x="517.10" y="328.30" font-size="4.25" text-anchor="middle" font-weight="normal" fill="#4d4d4d" stroke="#4d4d4d" stroke-width="0.1" >Metabolome_cluster</text>
<line x1="565.70" y1="322.30" x2="565.70" y2="323.90" stroke="#333" stroke-width="0.5"/>
<text x="565.70" y="328.30" font-size="4.25" text-anchor="middle" font-weight="normal" fill="#4d4d4d" stroke="#4d4d4d" stroke-width="0.1" >Phenome_cluster</text>
<line x1="614.60" y1="322.30" x2="614.60" y2="323.90" stroke="#333" stroke-width="0.5"/>
<text x="614.60" y="328.30" font-size="4.25" text-anchor="middle" font-weight="normal" fill="#4d4d4d" stroke="#4d4d4d" stroke-width="0.1" >Proteome_cluster</text>
<line x1="663.60" y1="322.30" x2="663.60" y2="323.90" stroke="#333" stroke-width="0.5"/>
<text x="663.60" y="328.30" font-size="4.25" text-anchor="middle" font-weight="normal" fill="#4d4d4d" stroke="#4d4d4d" stroke-width="0.1" >Transcriptome_cluster</text>
<text x="590.20" y="334.40" font-size="5.4" text-anchor="middle" font-weight="normal" fill="#000" stroke="#000" stroke-width="0.1" >Omics_type</text>
<text x="0" y="0" font-size="5.4" text-anchor="middle" transform="translate(485.9,250.95) rotate(-90)">count</text>
<text x="497.30" y="174.90" font-size="6.22" text-anchor="start" font-weight="normal" fill="#000" stroke="#000" stroke-width="0.1" >Number of Clusters (k) = 3</text>
<text x="480.60" y="178.30" font-size="10.2" text-anchor="start" font-weight="bold" fill="#000" >f</text>
<rect x="497.20" y="349.00" width="186.00" height="148.50" fill="#EBEBEB"/>
<line x1="497.20" y1="476.30" x2="683.20" y2="476.30" stroke="#fff" stroke-width="0.5"/>
<line x1="497.20" y1="446.50" x2="683.20" y2="446.50" stroke="#fff" stroke-width="0.5"/>
<line x1="497.20" y1="416.70" x2="683.20" y2="416.70" stroke="#fff" stroke-width="0.5"/>
<line x1="497.20" y1="386.90" x2="683.20" y2="386.90" stroke="#fff" stroke-width="0.5"/>
<line x1="497.20" y1="357.10" x2="683.20" y2="357.10" stroke="#fff" stroke-width="0.5"/>
<line x1="497.20" y1="491.20" x2="683.20" y2="491.20" stroke="#fff" stroke-width="1"/>
<line x1="497.20" y1="461.40" x2="683.20" y2="461.40" stroke="#fff" stroke-width="1"/>
<line x1="497.20" y1="431.60" x2="683.20" y2="431.60" stroke="#fff" stroke-width="1"/>
<line x1="497.20" y1="401.80" x2="683.20" y2="401.80" stroke="#fff" stroke-width="1"/>
<line x1="497.20" y1="372.00" x2="683.20" y2="372.00" stroke="#fff" stroke-width="1"/>
<line x1="517.10" y1="349.00" x2="517.10" y2="497.50" stroke="#fff" stroke-width="1"/>
<line x1="565.70" y1="349.00" x2="565.70" y2="497.50" stroke="#fff" stroke-width="1"/>
<line x1="614.60" y1="349.00" x2="614.60" y2="497.50" stroke="#fff" stroke-width="1"/>
<line x1="663.60" y1="349.00" x2="663.60" y2="497.50" stroke="#fff" stroke-width="1"/>
<path d="M525.40,355.30 C541.40,355.30 541.40,355.30 557.40,355.30 L557.40,361.38 C541.40,361.38 541.40,361.28 525.40,361.28 Z" fill="#F8766D" fill-opacity="0.5"/>
<path d="M525.40,361.28 C541.40,361.28 541.40,362.29 557.40,362.29 L557.40,370.40 C541.40,370.40 541.40,369.25 525.40,369.25 Z" fill="#F8766D" fill-opacity="0.5"/>
<path d="M525.40,369.25 C541.40,369.25 541.40,371.01 557.40,371.01 L557.40,376.08 C541.40,376.08 541.40,374.23 525.40,374.23 Z" fill="#F8766D" fill-opacity="0.5"/>
<path d="M525.40,374.23 C541.40,374.23 541.40,376.69 557.40,376.69 L557.40,382.77 C541.40,382.77 541.40,380.21 525.40,380.21 Z" fill="#F8766D" fill-opacity="0.5"/>
<path d="M525.40,380.21 C541.40,380.21 541.40,383.18 557.40,383.18 L557.40,386.22 C541.40,386.22 541.40,383.20 525.40,383.20 Z" fill="#F8766D" fill-opacity="0.5"/>
<path d="M525.40,383.20 C541.40,383.20 541.40,386.83 557.40,386.83 L557.40,391.89 C541.40,391.89 541.40,388.18 525.40,388.18 Z" fill="#F8766D" fill-opacity="0.5"/>
<path d="M525.40,388.18 C541.40,388.18 541.40,392.50 557.40,392.50 L557.40,397.06 C541.40,397.06 541.40,392.67 525.40,392.67 Z" fill="#F8766D" fill-opacity="0.5"/>
<path d="M525.40,392.67 C541.40,392.67 541.40,397.47 557.40,397.47 L557.40,402.54 C541.40,402.54 541.40,397.65 525.40,397.65 Z" fill="#F8766D" fill-opacity="0.5"/>
<path d="M525.40,397.65 C541.40,397.65 541.40,403.15 557.40,403.15 L557.40,407.20 C541.40,407.20 541.40,401.64 525.40,401.64 Z" fill="#F8766D" fill-opacity="0.5"/>
<path d="M525.40,401.64 C541.40,401.64 541.40,407.20 557.40,407.20 L557.40,412.36 C541.40,412.36 541.40,406.62 525.40,406.62 Z" fill="#F8766D" fill-opacity="0.5"/>
<path d="M525.40,406.62 C541.40,406.62 541.40,413.49 557.40,413.49 L557.40,419.68 C541.40,419.68 541.40,412.60 525.40,412.60 Z" fill="#F8766D" fill-opacity="0.5"/>
<path d="M525.40,412.60 C541.40,412.60 541.40,420.51 557.40,420.51 L557.40,424.63 C541.40,424.63 541.40,416.58 525.40,416.58 Z" fill="#F8766D" fill-opacity="0.5"/>
<path d="M525.40,416.58 C541.40,416.58 541.40,425.05 557.40,425.05 L557.40,430.20 C541.40,430.20 541.40,421.57 525.40,421.57 Z" fill="#F8766D" fill-opacity="0.5"/>
<path d="M525.40,421.57 C541.40,421.57 541.40,431.03 557.40,431.03 L557.40,436.19 C541.40,436.19 541.40,426.55 525.40,426.55 Z" fill="#F8766D" fill-opacity="0.5"/>
<path d="M525.40,426.55 C541.40,426.55 541.40,436.60 557.40,436.60 L557.40,440.72 C541.40,440.72 541.40,430.54 525.40,430.54 Z" fill="#F8766D" fill-opacity="0.5"/>
<path d="M525.40,430.54 C541.40,430.54 541.40,441.96 557.40,441.96 L557.40,448.15 C541.40,448.15 541.40,436.51 525.40,436.51 Z" fill="#F8766D" fill-opacity="0.5"/>
<path d="M525.40,436.51 C541.40,436.51 541.40,449.08 557.40,449.08 L557.40,456.30 C541.40,456.30 541.40,443.49 525.40,443.49 Z" fill="#F8766D" fill-opacity="0.5"/>
<path d="M525.40,443.49 C541.40,443.49 541.40,456.30 557.40,456.30 L557.40,459.21 C541.40,459.21 541.40,446.48 525.40,446.48 Z" fill="#F8766D" fill-opacity="0.5"/>
<path d="M525.40,446.48 C541.40,446.48 541.40,459.69 557.40,459.69 L557.40,466.47 C541.40,466.47 541.40,453.45 525.40,453.45 Z" fill="#F8766D" fill-opacity="0.5"/>
<path d="M525.40,453.45 C541.40,453.45 541.40,467.25 557.40,467.25 L557.40,468.70 C541.40,468.70 541.40,454.95 525.40,454.95 Z" fill="#F8766D" fill-opacity="0.5"/>
<path d="M525.40,454.95 C541.40,454.95 541.40,471.12 557.40,471.12 L557.40,474.03 C541.40,474.03 541.40,457.94 525.40,457.94 Z" fill="#F8766D" fill-opacity="0.5"/>
<path d="M525.40,457.94 C541.40,457.94 541.40,474.80 557.40,474.80 L557.40,478.68 C541.40,478.68 541.40,461.92 525.40,461.92 Z" fill="#F8766D" fill-opacity="0.5"/>
<path d="M525.40,461.92 C541.40,461.92 541.40,481.10 557.40,481.10 L557.40,486.91 C541.40,486.91 541.40,467.90 525.40,467.90 Z" fill="#F8766D" fill-opacity="0.5"/>
<path d="M525.40,467.90 C541.40,467.90 541.40,489.82 557.40,489.82 L557.40,490.30 C541.40,490.30 541.40,468.40 525.40,468.40 Z" fill="#F8766D" fill-opacity="0.5"/>
<path d="M525.40,468.40 C541.40,468.40 541.40,490.30 557.40,490.30 L557.40,490.80 C541.40,490.80 541.40,468.90 525.40,468.90 Z" fill="#F8766D" fill-opacity="0.5"/>
<path d="M525.40,468.90 C541.40,468.90 541.40,361.38 557.40,361.38 L557.40,361.69 C541.40,361.69 541.40,469.19 525.40,469.19 Z" fill="#7CAE00" fill-opacity="0.5"/>
<path d="M525.40,469.19 C541.40,469.19 541.40,370.40 557.40,370.40 L557.40,370.71 C541.40,370.71 541.40,469.47 525.40,469.47 Z" fill="#7CAE00" fill-opacity="0.5"/>
<path d="M525.40,469.47 C541.40,469.47 541.40,382.77 557.40,382.77 L557.40,383.18 C541.40,383.18 541.40,469.86 525.40,469.86 Z" fill="#7CAE00" fill-opacity="0.5"/>
<path d="M525.40,469.86 C541.40,469.86 541.40,391.89 557.40,391.89 L557.40,392.20 C541.40,392.20 541.40,470.14 525.40,470.14 Z" fill="#7CAE00" fill-opacity="0.5"/>
<path d="M525.40,470.14 C541.40,470.14 541.40,402.54 557.40,402.54 L557.40,402.84 C541.40,402.84 541.40,470.43 525.40,470.43 Z" fill="#7CAE00" fill-opacity="0.5"/>
<path d="M525.40,470.43 C541.40,470.43 541.40,412.36 557.40,412.36 L557.40,412.77 C541.40,412.77 541.40,470.81 525.40,470.81 Z" fill="#7CAE00" fill-opacity="0.5"/>
<path d="M525.40,470.81 C541.40,470.81 541.40,419.68 557.40,419.68 L557.40,420.09 C541.40,420.09 541.40,471.19 525.40,471.19 Z" fill="#7CAE00" fill-opacity="0.5"/>
<path d="M525.40,471.19 C541.40,471.19 541.40,430.20 557.40,430.20 L557.40,430.62 C541.40,430.62 541.40,471.57 525.40,471.57 Z" fill="#7CAE00" fill-opacity="0.5"/>
<path d="M525.40,471.57 C541.40,471.57 541.40,440.72 557.40,440.72 L557.40,441.14 C541.40,441.14 541.40,471.96 525.40,471.96 Z" fill="#7CAE00" fill-opacity="0.5"/>
<path d="M525.40,471.96 C541.40,471.96 541.40,448.15 557.40,448.15 L557.40,448.67 C541.40,448.67 541.40,472.43 525.40,472.43 Z" fill="#7CAE00" fill-opacity="0.5"/>
<path d="M525.40,472.43 C541.40,472.43 541.40,459.21 557.40,459.21 L557.40,459.69 C541.40,459.69 541.40,472.91 525.40,472.91 Z" fill="#7CAE00" fill-opacity="0.5"/>
<path d="M525.40,472.91 C541.40,472.91 541.40,468.70 557.40,468.70 L557.40,471.12 C541.40,471.12 541.40,475.30 525.40,475.30 Z" fill="#7CAE00" fill-opacity="0.5"/>
<path d="M525.40,475.30 C541.40,475.30 541.40,361.69 557.40,361.69 L557.40,361.99 C541.40,361.99 541.40,475.62 525.40,475.62 Z" fill="#00BFC4" fill-opacity="0.5"/>
<path d="M525.40,475.62 C541.40,475.62 541.40,376.08 557.40,376.08 L557.40,376.38 C541.40,376.38 541.40,475.95 525.40,475.95 Z" fill="#00BFC4" fill-opacity="0.5"/>
<path d="M525.40,475.95 C541.40,475.95 541.40,386.22 557.40,386.22 L557.40,386.52 C541.40,386.52 541.40,476.27 525.40,476.27 Z" fill="#00BFC4" fill-opacity="0.5"/>
<path d="M525.40,476.27 C541.40,476.27 541.40,392.20 557.40,392.20 L557.40,392.50 C541.40,392.50 541.40,476.60 525.40,476.60 Z" fill="#00BFC4" fill-opacity="0.5"/>
<path d="M525.40,476.60 C541.40,476.60 541.40,402.84 557.40,402.84 L557.40,403.15 C541.40,403.15 541.40,476.92 525.40,476.92 Z" fill="#00BFC4" fill-opacity="0.5"/>
<path d="M525.40,476.92 C541.40,476.92 541.40,412.77 557.40,412.77 L557.40,413.08 C541.40,413.08 541.40,477.24 525.40,477.24 Z" fill="#00BFC4" fill-opacity="0.5"/>
<path d="M525.40,477.24 C541.40,477.24 541.40,420.09 557.40,420.09 L557.40,420.51 C541.40,420.51 541.40,477.67 525.40,477.67 Z" fill="#00BFC4" fill-opacity="0.5"/>
<path d="M525.40,477.67 C541.40,477.67 541.40,430.62 557.40,430.62 L557.40,431.03 C541.40,431.03 541.40,478.11 525.40,478.11 Z" fill="#00BFC4" fill-opacity="0.5"/>
<path d="M525.40,478.11 C541.40,478.11 541.40,441.14 557.40,441.14 L557.40,441.65 C541.40,441.65 541.40,478.65 525.40,478.65 Z" fill="#00BFC4" fill-opacity="0.5"/>
<path d="M525.40,478.65 C541.40,478.65 541.40,448.67 557.40,448.67 L557.40,449.08 C541.40,449.08 541.40,479.08 525.40,479.08 Z" fill="#00BFC4" fill-opacity="0.5"/>
<path d="M525.40,479.08 C541.40,479.08 541.40,466.47 557.40,466.47 L557.40,467.25 C541.40,467.25 541.40,479.94 525.40,479.94 Z" fill="#00BFC4" fill-opacity="0.5"/>
<path d="M525.40,479.94 C541.40,479.94 541.40,478.68 557.40,478.68 L557.40,479.64 C541.40,479.64 541.40,481.02 525.40,481.02 Z" fill="#00BFC4" fill-opacity="0.5"/>
<path d="M525.40,481.02 C541.40,481.02 541.40,486.91 557.40,486.91 L557.40,487.88 C541.40,487.88 541.40,482.10 525.40,482.10 Z" fill="#00BFC4" fill-opacity="0.5"/>
<path d="M525.40,482.10 C541.40,482.10 541.40,361.99 557.40,361.99 L557.40,362.29 C541.40,362.29 541.40,482.45 525.40,482.45 Z" fill="#C77CFF" fill-opacity="0.5"/>
<path d="M525.40,482.45 C541.40,482.45 541.40,370.71 557.40,370.71 L557.40,371.01 C541.40,371.01 541.40,482.80 525.40,482.80 Z" fill="#C77CFF" fill-opacity="0.5"/>
<path d="M525.40,482.80 C541.40,482.80 541.40,376.38 557.40,376.38 L557.40,376.69 C541.40,376.69 541.40,483.15 525.40,483.15 Z" fill="#C77CFF" fill-opacity="0.5"/>
<path d="M525.40,483.15 C541.40,483.15 541.40,386.52 557.40,386.52 L557.40,386.83 C541.40,386.83 541.40,483.50 525.40,483.50 Z" fill="#C77CFF" fill-opacity="0.5"/>
<path d="M525.40,483.50 C541.40,483.50 541.40,397.06 557.40,397.06 L557.40,397.47 C541.40,397.47 541.40,483.97 525.40,483.97 Z" fill="#C77CFF" fill-opacity="0.5"/>
<path d="M525.40,483.97 C541.40,483.97 541.40,413.08 557.40,413.08 L557.40,413.49 C541.40,413.49 541.40,484.43 525.40,484.43 Z" fill="#C77CFF" fill-opacity="0.5"/>
<path d="M525.40,484.43 C541.40,484.43 541.40,424.63 557.40,424.63 L557.40,425.05 C541.40,425.05 541.40,484.90 525.40,484.90 Z" fill="#C77CFF" fill-opacity="0.5"/>
<path d="M525.40,484.90 C541.40,484.90 541.40,436.19 557.40,436.19 L557.40,436.60 C541.40,436.60 541.40,485.37 525.40,485.37 Z" fill="#C77CFF" fill-opacity="0.5"/>
<path d="M525.40,485.37 C541.40,485.37 541.40,441.65 557.40,441.65 L557.40,441.96 C541.40,441.96 541.40,485.72 525.40,485.72 Z" fill="#C77CFF" fill-opacity="0.5"/>
<path d="M525.40,485.72 C541.40,485.72 541.40,474.03 557.40,474.03 L557.40,474.80 C541.40,474.80 541.40,486.65 525.40,486.65 Z" fill="#C77CFF" fill-opacity="0.5"/>
<path d="M525.40,486.65 C541.40,486.65 541.40,479.64 557.40,479.64 L557.40,481.10 C541.40,481.10 541.40,488.40 525.40,488.40 Z" fill="#C77CFF" fill-opacity="0.5"/>
<path d="M525.40,488.40 C541.40,488.40 541.40,487.88 557.40,487.88 L557.40,489.82 C541.40,489.82 541.40,490.73 525.40,490.73 Z" fill="#C77CFF" fill-opacity="0.5"/>
<path d="M525.40,490.73 C541.40,490.73 541.40,490.80 557.40,490.80 L557.40,491.20 C541.40,491.20 541.40,491.20 525.40,491.20 Z" fill="#C77CFF" fill-opacity="0.5"/>
<path d="M574.00,355.30 C590.15,355.30 590.15,355.30 606.30,355.30 L606.30,358.05 C590.15,358.05 590.15,358.21 574.00,358.21 Z" fill="#F8766D" fill-opacity="0.5"/>
<path d="M574.00,358.21 C590.15,358.21 590.15,365.17 606.30,365.17 L606.30,367.21 C590.15,367.21 590.15,360.36 574.00,360.36 Z" fill="#F8766D" fill-opacity="0.5"/>
<path d="M574.00,360.36 C590.15,360.36 590.15,375.35 606.30,375.35 L606.30,379.42 C590.15,379.42 590.15,364.67 574.00,364.67 Z" fill="#F8766D" fill-opacity="0.5"/>
<path d="M574.00,364.67 C590.15,364.67 590.15,392.65 606.30,392.65 L606.30,396.72 C590.15,396.72 590.15,368.97 574.00,368.97 Z" fill="#F8766D" fill-opacity="0.5"/>
<path d="M574.00,368.97 C590.15,368.97 590.15,403.84 606.30,403.84 L606.30,405.88 C590.15,405.88 590.15,371.13 574.00,371.13 Z" fill="#F8766D" fill-opacity="0.5"/>
<path d="M574.00,371.13 C590.15,371.13 590.15,408.93 606.30,408.93 L606.30,413.10 C590.15,413.10 590.15,375.54 574.00,375.54 Z" fill="#F8766D" fill-opacity="0.5"/>
<path d="M574.00,375.54 C590.15,375.54 590.15,419.06 606.30,419.06 L606.30,424.02 C590.15,424.02 590.15,380.93 574.00,380.93 Z" fill="#F8766D" fill-opacity="0.5"/>
<path d="M574.00,380.93 C590.15,380.93 590.15,430.27 606.30,430.27 L606.30,435.24 C590.15,435.24 590.15,386.31 574.00,386.31 Z" fill="#F8766D" fill-opacity="0.5"/>
<path d="M574.00,386.31 C590.15,386.31 590.15,444.17 606.30,444.17 L606.30,448.14 C590.15,448.14 590.15,390.62 574.00,390.62 Z" fill="#F8766D" fill-opacity="0.5"/>
<path d="M574.00,390.62 C590.15,390.62 590.15,457.18 606.30,457.18 L606.30,462.13 C590.15,462.13 590.15,396.00 574.00,396.00 Z" fill="#F8766D" fill-opacity="0.5"/>
<path d="M574.00,396.00 C590.15,396.00 590.15,468.08 606.30,468.08 L606.30,473.04 C590.15,473.04 590.15,401.39 574.00,401.39 Z" fill="#F8766D" fill-opacity="0.5"/>
<path d="M574.00,401.39 C590.15,401.39 590.15,478.30 606.30,478.30 L606.30,483.26 C590.15,483.26 590.15,406.77 574.00,406.77 Z" fill="#F8766D" fill-opacity="0.5"/>
<path d="M574.00,406.77 C590.15,406.77 590.15,490.00 606.30,490.00 L606.30,490.40 C590.15,490.40 590.15,407.20 574.00,407.20 Z" fill="#F8766D" fill-opacity="0.5"/>
<path d="M574.00,407.20 C590.15,407.20 590.15,358.05 606.30,358.05 L606.30,361.91 C590.15,361.91 590.15,410.91 574.00,410.91 Z" fill="#7CAE00" fill-opacity="0.5"/>
<path d="M574.00,410.91 C590.15,410.91 590.15,367.21 606.30,367.21 L606.30,371.28 C590.15,371.28 590.15,414.81 574.00,414.81 Z" fill="#7CAE00" fill-opacity="0.5"/>
<path d="M574.00,414.81 C590.15,414.81 590.15,379.42 606.30,379.42 L606.30,384.51 C590.15,384.51 590.15,419.69 574.00,419.69 Z" fill="#7CAE00" fill-opacity="0.5"/>
<path d="M574.00,419.69 C590.15,419.69 590.15,396.72 606.30,396.72 L606.30,403.84 C590.15,403.84 590.15,426.53 574.00,426.53 Z" fill="#7CAE00" fill-opacity="0.5"/>
<path d="M574.00,426.53 C590.15,426.53 590.15,413.10 606.30,413.10 L606.30,419.06 C590.15,419.06 590.15,432.38 574.00,432.38 Z" fill="#7CAE00" fill-opacity="0.5"/>
<path d="M574.00,432.38 C590.15,432.38 590.15,424.02 606.30,424.02 L606.30,429.98 C590.15,429.98 590.15,438.24 574.00,438.24 Z" fill="#7CAE00" fill-opacity="0.5"/>
<path d="M574.00,438.24 C590.15,438.24 590.15,438.22 606.30,438.22 L606.30,444.17 C590.15,444.17 590.15,444.10 574.00,444.10 Z" fill="#7CAE00" fill-opacity="0.5"/>
<path d="M574.00,444.10 C590.15,444.10 590.15,452.12 606.30,452.12 L606.30,454.20 C590.15,454.20 590.15,446.15 574.00,446.15 Z" fill="#7CAE00" fill-opacity="0.5"/>
<path d="M574.00,446.15 C590.15,446.15 590.15,462.13 606.30,462.13 L606.30,466.10 C590.15,466.10 590.15,450.05 574.00,450.05 Z" fill="#7CAE00" fill-opacity="0.5"/>
<path d="M574.00,450.05 C590.15,450.05 590.15,473.04 606.30,473.04 L606.30,476.02 C590.15,476.02 590.15,452.98 574.00,452.98 Z" fill="#7CAE00" fill-opacity="0.5"/>
<path d="M574.00,452.98 C590.15,452.98 590.15,483.26 606.30,483.26 L606.30,486.23 C590.15,486.23 590.15,455.91 574.00,455.91 Z" fill="#7CAE00" fill-opacity="0.5"/>
<path d="M574.00,455.91 C590.15,455.91 590.15,490.40 606.30,490.40 L606.30,490.80 C590.15,490.80 590.15,456.30 574.00,456.30 Z" fill="#7CAE00" fill-opacity="0.5"/>
<path d="M574.00,456.30 C590.15,456.30 590.15,361.91 606.30,361.91 L606.30,365.17 C590.15,365.17 590.15,459.32 574.00,459.32 Z" fill="#00BFC4" fill-opacity="0.5"/>
<path d="M574.00,459.32 C590.15,459.32 590.15,371.28 606.30,371.28 L606.30,375.35 C590.15,375.35 590.15,463.10 574.00,463.10 Z" fill="#00BFC4" fill-opacity="0.5"/>
<path d="M574.00,463.10 C590.15,463.10 590.15,384.51 606.30,384.51 L606.30,392.65 C590.15,392.65 590.15,470.66 574.00,470.66 Z" fill="#00BFC4" fill-opacity="0.5"/>
<path d="M574.00,470.66 C590.15,470.66 590.15,405.88 606.30,405.88 L606.30,408.93 C590.15,408.93 590.15,473.49 574.00,473.49 Z" fill="#00BFC4" fill-opacity="0.5"/>
<path d="M574.00,473.49 C590.15,473.49 590.15,435.24 606.30,435.24 L606.30,438.22 C590.15,438.22 590.15,476.32 574.00,476.32 Z" fill="#00BFC4" fill-opacity="0.5"/>
<path d="M574.00,476.32 C590.15,476.32 590.15,448.14 606.30,448.14 L606.30,452.12 C590.15,452.12 590.15,480.10 574.00,480.10 Z" fill="#00BFC4" fill-opacity="0.5"/>
<path d="M574.00,480.10 C590.15,480.10 590.15,454.20 606.30,454.20 L606.30,457.18 C590.15,457.18 590.15,482.93 574.00,482.93 Z" fill="#00BFC4" fill-opacity="0.5"/>
<path d="M574.00,482.93 C590.15,482.93 590.15,466.10 606.30,466.10 L606.30,468.08 C590.15,468.08 590.15,484.82 574.00,484.82 Z" fill="#00BFC4" fill-opacity="0.5"/>
<path d="M574.00,484.82 C590.15,484.82 590.15,476.31 606.30,476.31 L606.30,478.30 C590.15,478.30 590.15,486.71 574.00,486.71 Z" fill="#00BFC4" fill-opacity="0.5"/>
<path d="M574.00,486.71 C590.15,486.71 590.15,486.23 606.30,486.23 L606.30,490.00 C590.15,490.00 590.15,490.30 574.00,490.30 Z" fill="#00BFC4" fill-opacity="0.5"/>
<path d="M574.00,490.30 C590.15,490.30 590.15,429.98 606.30,429.98 L606.30,430.27 C590.15,430.27 590.15,490.57 574.00,490.57 Z" fill="#C77CFF" fill-opacity="0.5"/>
<path d="M574.00,490.57 C590.15,490.57 590.15,476.02 606.30,476.02 L606.30,476.31 C590.15,476.31 590.15,490.84 574.00,490.84 Z" fill="#C77CFF" fill-opacity="0.5"/>
<path d="M574.00,490.84 C590.15,490.84 590.15,490.80 606.30,490.80 L606.30,491.20 C590.15,491.20 590.15,491.20 574.00,491.20 Z" fill="#C77CFF" fill-opacity="0.5"/>
<path d="M622.90,355.30 C639.10,355.30 639.10,355.30 655.30,355.30 L655.30,362.60 C639.10,362.60 639.10,362.60 622.90,362.60 Z" fill="#F8766D" fill-opacity="0.5"/>
<path d="M622.90,362.60 C639.10,362.60 639.10,381.40 655.30,381.40 L655.30,395.60 C639.10,395.60 639.10,376.80 622.90,376.80 Z" fill="#F8766D" fill-opacity="0.5"/>
<path d="M622.90,376.80 C639.10,376.80 639.10,419.60 655.30,419.60 L655.30,436.20 C639.10,436.20 639.10,393.40 622.90,393.40 Z" fill="#F8766D" fill-opacity="0.5"/>
<path d="M622.90,393.40 C639.10,393.40 639.10,453.30 655.30,453.30 L655.30,473.00 C639.10,473.00 639.10,413.10 622.90,413.10 Z" fill="#F8766D" fill-opacity="0.5"/>
<path d="M622.90,413.10 C639.10,413.10 639.10,362.60 655.30,362.60 L655.30,373.50 C639.10,373.50 639.10,424.00 622.90,424.00 Z" fill="#7CAE00" fill-opacity="0.5"/>
<path d="M622.90,424.00 C639.10,424.00 639.10,395.60 655.30,395.60 L655.30,410.70 C639.10,410.70 639.10,439.10 622.90,439.10 Z" fill="#7CAE00" fill-opacity="0.5"/>
<path d="M622.90,439.10 C639.10,439.10 639.10,436.20 655.30,436.20 L655.30,443.70 C639.10,443.70 639.10,446.60 622.90,446.60 Z" fill="#7CAE00" fill-opacity="0.5"/>
<path d="M622.90,446.60 C639.10,446.60 639.10,473.00 655.30,473.00 L655.30,480.60 C639.10,480.60 639.10,454.20 622.90,454.20 Z" fill="#7CAE00" fill-opacity="0.5"/>
<path d="M622.90,454.20 C639.10,454.20 639.10,373.50 655.30,373.50 L655.30,381.40 C639.10,381.40 639.10,462.10 622.90,462.10 Z" fill="#00BFC4" fill-opacity="0.5"/>
<path d="M622.90,462.10 C639.10,462.10 639.10,410.70 655.30,410.70 L655.30,418.60 C639.10,418.60 639.10,470.00 622.90,470.00 Z" fill="#00BFC4" fill-opacity="0.5"/>
<path d="M622.90,470.00 C639.10,470.00 639.10,443.70 655.30,443.70 L655.30,453.30 C639.10,453.30 639.10,479.60 622.90,479.60 Z" fill="#00BFC4" fill-opacity="0.5"/>
<path d="M622.90,479.60 C639.10,479.60 639.10,480.60 655.30,480.60 L655.30,491.00 C639.10,491.00 639.10,490.00 622.90,490.00 Z" fill="#00BFC4" fill-opacity="0.5"/>
<path d="M622.90,490.00 C639.10,490.00 639.10,418.60 655.30,418.60 L655.30,419.60 C639.10,419.60 639.10,491.00 622.90,491.00 Z" fill="#C77CFF" fill-opacity="0.5"/>
<path d="M622.90,491.00 C639.10,491.00 639.10,491.00 655.30,491.00 L655.30,491.20 C639.10,491.20 639.10,491.20 622.90,491.20 Z" fill="#C77CFF" fill-opacity="0.5"/>
<rect x="508.80" y="355.30" width="16.60" height="113.60" fill="#F8766D" fill-opacity="0.5" stroke="#222" stroke-width="0.75"/>
<text x="517.10" y="414.00" font-size="5.2" text-anchor="middle" font-weight="normal" fill="#333" >1</text>
<rect x="508.80" y="468.90" width="16.60" height="6.40" fill="#7CAE00" fill-opacity="0.5" stroke="#222" stroke-width="0.75"/>
<text x="517.10" y="474.00" font-size="5.2" text-anchor="middle" font-weight="normal" fill="#333" >2</text>
<rect x="508.80" y="475.30" width="16.60" height="6.80" fill="#00BFC4" fill-opacity="0.5" stroke="#222" stroke-width="0.75"/>
<text x="517.10" y="480.60" font-size="5.2" text-anchor="middle" font-weight="normal" fill="#333" >3</text>
<rect x="508.80" y="482.10" width="16.60" height="9.10" fill="#C77CFF" fill-opacity="0.5" stroke="#222" stroke-width="0.75"/>
<text x="517.10" y="488.55" font-size="5.2" text-anchor="middle" font-weight="normal" fill="#333" >4</text>
<rect x="557.40" y="355.30" width="16.60" height="51.90" fill="#F8766D" fill-opacity="0.5" stroke="#222" stroke-width="0.75"/>
<text x="565.70" y="383.15" font-size="5.2" text-anchor="middle" font-weight="normal" fill="#333" >1</text>
<rect x="557.40" y="407.20" width="16.60" height="49.10" fill="#7CAE00" fill-opacity="0.5" stroke="#222" stroke-width="0.75"/>
<text x="565.70" y="433.65" font-size="5.2" text-anchor="middle" font-weight="normal" fill="#333" >2</text>
<rect x="557.40" y="456.30" width="16.60" height="34.00" fill="#00BFC4" fill-opacity="0.5" stroke="#222" stroke-width="0.75"/>
<text x="565.70" y="475.20" font-size="5.2" text-anchor="middle" font-weight="normal" fill="#333" >3</text>
<rect x="557.40" y="490.30" width="16.60" height="0.90" fill="#C77CFF" fill-opacity="0.5" stroke="#222" stroke-width="0.75"/>
<text x="565.70" y="492.65" font-size="5.2" text-anchor="middle" font-weight="normal" fill="#333" >4</text>
<rect x="606.30" y="355.30" width="16.60" height="57.80" fill="#F8766D" fill-opacity="0.5" stroke="#222" stroke-width="0.75"/>
<text x="614.60" y="386.10" font-size="5.2" text-anchor="middle" font-weight="normal" fill="#333" >1</text>
<rect x="606.30" y="413.10" width="16.60" height="41.10" fill="#7CAE00" fill-opacity="0.5" stroke="#222" stroke-width="0.75"/>
<text x="614.60" y="435.55" font-size="5.2" text-anchor="middle" font-weight="normal" fill="#333" >2</text>
<rect x="606.30" y="454.20" width="16.60" height="35.80" fill="#00BFC4" fill-opacity="0.5" stroke="#222" stroke-width="0.75"/>
<text x="614.60" y="474.00" font-size="5.2" text-anchor="middle" font-weight="normal" fill="#333" >3</text>
<rect x="606.30" y="490.00" width="16.60" height="1.20" fill="#C77CFF" fill-opacity="0.5" stroke="#222" stroke-width="0.75"/>
<text x="614.60" y="492.50" font-size="5.2" text-anchor="middle" font-weight="normal" fill="#333" >4</text>
<rect x="655.30" y="355.30" width="16.60" height="26.10" fill="#F8766D" fill-opacity="0.5" stroke="#222" stroke-width="0.75"/>
<text x="663.60" y="370.25" font-size="5.2" text-anchor="middle" font-weight="normal" fill="#333" >1</text>
<rect x="655.30" y="381.40" width="16.60" height="38.20" fill="#7CAE00" fill-opacity="0.5" stroke="#222" stroke-width="0.75"/>
<text x="663.60" y="402.40" font-size="5.2" text-anchor="middle" font-weight="normal" fill="#333" >2</text>
<rect x="655.30" y="419.60" width="16.60" height="33.70" fill="#00BFC4" fill-opacity="0.5" stroke="#222" stroke-width="0.75"/>
<text x="663.60" y="438.35" font-size="5.2" text-anchor="middle" font-weight="normal" fill="#333" >3</text>
<rect x="655.30" y="453.30" width="16.60" height="37.90" fill="#C77CFF" fill-opacity="0.5" stroke="#222" stroke-width="0.75"/>
<text x="663.60" y="474.15" font-size="5.2" text-anchor="middle" font-weight="normal" fill="#333" >4</text>
<line x1="495.60" y1="491.20" x2="497.20" y2="491.20" stroke="#333" stroke-width="0.5"/>
<text x="495.00" y="492.70" font-size="4.25" text-anchor="end" font-weight="normal" fill="#4d4d4d" stroke="#4d4d4d" stroke-width="0.1" >0</text>
<line x1="495.60" y1="461.40" x2="497.20" y2="461.40" stroke="#333" stroke-width="0.5"/>
<text x="495.00" y="462.90" font-size="4.25" text-anchor="end" font-weight="normal" fill="#4d4d4d" stroke="#4d4d4d" stroke-width="0.1" >100</text>
<line x1="495.60" y1="431.60" x2="497.20" y2="431.60" stroke="#333" stroke-width="0.5"/>
<text x="495.00" y="433.10" font-size="4.25" text-anchor="end" font-weight="normal" fill="#4d4d4d" stroke="#4d4d4d" stroke-width="0.1" >200</text>
<line x1="495.60" y1="401.80" x2="497.20" y2="401.80" stroke="#333" stroke-width="0.5"/>
<text x="495.00" y="403.30" font-size="4.25" text-anchor="end" font-weight="normal" fill="#4d4d4d" stroke="#4d4d4d" stroke-width="0.1" >300</text>
<line x1="495.60" y1="372.00" x2="497.20" y2="372.00" stroke="#333" stroke-width="0.5"/>
<text x="495.00" y="373.50" font-size="4.25" text-anchor="end" font-weight="normal" fill="#4d4d4d" stroke="#4d4d4d" stroke-width="0.1" >400</text>
<line x1="517.10" y1="497.50" x2="517.10" y2="499.10" stroke="#333" stroke-width="0.5"/>
<text x="517.10" y="503.50" font-size="4.25" text-anchor="middle" font-weight="normal" fill="#4d4d4d" stroke="#4d4d4d" stroke-width="0.1" >Metabolome_cluster</text>
<line x1="565.70" y1="497.50" x2="565.70" y2="499.10" stroke="#333" stroke-width="0.5"/>
<text x="565.70" y="503.50" font-size="4.25" text-anchor="middle" font-weight="normal" fill="#4d4d4d" stroke="#4d4d4d" stroke-width="0.1" >Phenome_cluster</text>
<line x1="614.60" y1="497.50" x2="614.60" y2="499.10" stroke="#333" stroke-width="0.5"/>
<text x="614.60" y="503.50" font-size="4.25" text-anchor="middle" font-weight="normal" fill="#4d4d4d" stroke="#4d4d4d" stroke-width="0.1" >Proteome_cluster</text>
<line x1="663.60" y1="497.50" x2="663.60" y2="499.10" stroke="#333" stroke-width="0.5"/>
<text x="663.60" y="503.50" font-size="4.25" text-anchor="middle" font-weight="normal" fill="#4d4d4d" stroke="#4d4d4d" stroke-width="0.1" >Transcriptome_cluster</text>
<text x="590.20" y="509.60" font-size="5.4" text-anchor="middle" font-weight="normal" fill="#000" stroke="#000" stroke-width="0.1" >Omics_type</text>
<text x="0" y="0" font-size="5.4" text-anchor="middle" transform="translate(485.9,423.55) rotate(-90)">count</text>
<text x="497.30" y="344.80" font-size="6.22" text-anchor="start" font-weight="normal" fill="#000" stroke="#000" stroke-width="0.1" >Number of Clusters (k) = 4</text>
<text x="481.30" y="348.50" font-size="10.2" text-anchor="start" font-weight="bold" fill="#000" >g</text>
</svg></body></html>
